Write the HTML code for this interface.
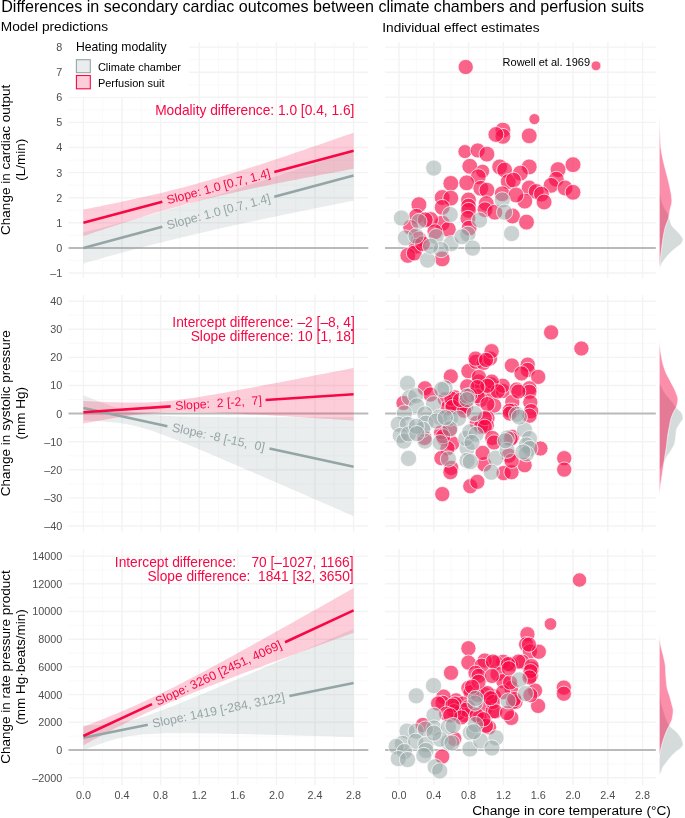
<!DOCTYPE html>
<html><head><meta charset="utf-8"><style>html,body{margin:0;padding:0;background:#fff;width:685px;height:818px;overflow:hidden;position:relative}</style></head><body>
<svg width="685" height="818" viewBox="0 0 685 818" style="position:absolute;left:0;top:0;font-family:'Liberation Sans', sans-serif;will-change:transform">
<rect width="685" height="818" fill="#fff"/>
<text x="1.2" y="12" font-size="16.1" fill="#000">Differences in secondary cardiac outcomes between climate chambers and perfusion suits</text>
<text x="0.8" y="31.4" font-size="13.7" fill="#000">Model predictions</text>
<text x="382.3" y="31.6" font-size="13.7" fill="#000">Individual effect estimates</text>
<line x1="68.5" x2="368.3" y1="260.45" y2="260.45" stroke="#f8f8f8" stroke-width="0.9"/>
<line x1="68.5" x2="368.3" y1="235.35" y2="235.35" stroke="#f8f8f8" stroke-width="0.9"/>
<line x1="68.5" x2="368.3" y1="210.25" y2="210.25" stroke="#f8f8f8" stroke-width="0.9"/>
<line x1="68.5" x2="368.3" y1="185.15" y2="185.15" stroke="#f8f8f8" stroke-width="0.9"/>
<line x1="68.5" x2="368.3" y1="160.05" y2="160.05" stroke="#f8f8f8" stroke-width="0.9"/>
<line x1="68.5" x2="368.3" y1="134.95" y2="134.95" stroke="#f8f8f8" stroke-width="0.9"/>
<line x1="68.5" x2="368.3" y1="109.85" y2="109.85" stroke="#f8f8f8" stroke-width="0.9"/>
<line x1="68.5" x2="368.3" y1="84.75" y2="84.75" stroke="#f8f8f8" stroke-width="0.9"/>
<line x1="68.5" x2="368.3" y1="59.65" y2="59.65" stroke="#f8f8f8" stroke-width="0.9"/>
<line x1="102.7" x2="102.7" y1="41.9" y2="277.8" stroke="#f8f8f8" stroke-width="0.9"/>
<line x1="141.3" x2="141.3" y1="41.9" y2="277.8" stroke="#f8f8f8" stroke-width="0.9"/>
<line x1="179.9" x2="179.9" y1="41.9" y2="277.8" stroke="#f8f8f8" stroke-width="0.9"/>
<line x1="218.5" x2="218.5" y1="41.9" y2="277.8" stroke="#f8f8f8" stroke-width="0.9"/>
<line x1="257.1" x2="257.1" y1="41.9" y2="277.8" stroke="#f8f8f8" stroke-width="0.9"/>
<line x1="295.7" x2="295.7" y1="41.9" y2="277.8" stroke="#f8f8f8" stroke-width="0.9"/>
<line x1="334.3" x2="334.3" y1="41.9" y2="277.8" stroke="#f8f8f8" stroke-width="0.9"/>
<line x1="68.5" x2="368.3" y1="273" y2="273" stroke="#f3f3f3" stroke-width="1.4"/>
<line x1="68.5" x2="368.3" y1="247.9" y2="247.9" stroke="#f3f3f3" stroke-width="1.4"/>
<line x1="68.5" x2="368.3" y1="222.8" y2="222.8" stroke="#f3f3f3" stroke-width="1.4"/>
<line x1="68.5" x2="368.3" y1="197.7" y2="197.7" stroke="#f3f3f3" stroke-width="1.4"/>
<line x1="68.5" x2="368.3" y1="172.6" y2="172.6" stroke="#f3f3f3" stroke-width="1.4"/>
<line x1="68.5" x2="368.3" y1="147.5" y2="147.5" stroke="#f3f3f3" stroke-width="1.4"/>
<line x1="68.5" x2="368.3" y1="122.4" y2="122.4" stroke="#f3f3f3" stroke-width="1.4"/>
<line x1="68.5" x2="368.3" y1="97.3" y2="97.3" stroke="#f3f3f3" stroke-width="1.4"/>
<line x1="68.5" x2="368.3" y1="72.2" y2="72.2" stroke="#f3f3f3" stroke-width="1.4"/>
<line x1="68.5" x2="368.3" y1="47.1" y2="47.1" stroke="#f3f3f3" stroke-width="1.4"/>
<line x1="83.4" x2="83.4" y1="41.9" y2="277.8" stroke="#f3f3f3" stroke-width="1.4"/>
<line x1="122" x2="122" y1="41.9" y2="277.8" stroke="#f3f3f3" stroke-width="1.4"/>
<line x1="160.6" x2="160.6" y1="41.9" y2="277.8" stroke="#f3f3f3" stroke-width="1.4"/>
<line x1="199.2" x2="199.2" y1="41.9" y2="277.8" stroke="#f3f3f3" stroke-width="1.4"/>
<line x1="237.8" x2="237.8" y1="41.9" y2="277.8" stroke="#f3f3f3" stroke-width="1.4"/>
<line x1="276.4" x2="276.4" y1="41.9" y2="277.8" stroke="#f3f3f3" stroke-width="1.4"/>
<line x1="315" x2="315" y1="41.9" y2="277.8" stroke="#f3f3f3" stroke-width="1.4"/>
<line x1="353.6" x2="353.6" y1="41.9" y2="277.8" stroke="#f3f3f3" stroke-width="1.4"/>
<line x1="385.1" x2="655.8" y1="260.45" y2="260.45" stroke="#f8f8f8" stroke-width="0.9"/>
<line x1="385.1" x2="655.8" y1="235.35" y2="235.35" stroke="#f8f8f8" stroke-width="0.9"/>
<line x1="385.1" x2="655.8" y1="210.25" y2="210.25" stroke="#f8f8f8" stroke-width="0.9"/>
<line x1="385.1" x2="655.8" y1="185.15" y2="185.15" stroke="#f8f8f8" stroke-width="0.9"/>
<line x1="385.1" x2="655.8" y1="160.05" y2="160.05" stroke="#f8f8f8" stroke-width="0.9"/>
<line x1="385.1" x2="655.8" y1="134.95" y2="134.95" stroke="#f8f8f8" stroke-width="0.9"/>
<line x1="385.1" x2="655.8" y1="109.85" y2="109.85" stroke="#f8f8f8" stroke-width="0.9"/>
<line x1="385.1" x2="655.8" y1="84.75" y2="84.75" stroke="#f8f8f8" stroke-width="0.9"/>
<line x1="385.1" x2="655.8" y1="59.65" y2="59.65" stroke="#f8f8f8" stroke-width="0.9"/>
<line x1="416.4" x2="416.4" y1="41.9" y2="277.8" stroke="#f8f8f8" stroke-width="0.9"/>
<line x1="451.2" x2="451.2" y1="41.9" y2="277.8" stroke="#f8f8f8" stroke-width="0.9"/>
<line x1="486" x2="486" y1="41.9" y2="277.8" stroke="#f8f8f8" stroke-width="0.9"/>
<line x1="520.8" x2="520.8" y1="41.9" y2="277.8" stroke="#f8f8f8" stroke-width="0.9"/>
<line x1="555.6" x2="555.6" y1="41.9" y2="277.8" stroke="#f8f8f8" stroke-width="0.9"/>
<line x1="590.4" x2="590.4" y1="41.9" y2="277.8" stroke="#f8f8f8" stroke-width="0.9"/>
<line x1="625.2" x2="625.2" y1="41.9" y2="277.8" stroke="#f8f8f8" stroke-width="0.9"/>
<line x1="385.1" x2="655.8" y1="273" y2="273" stroke="#f3f3f3" stroke-width="1.4"/>
<line x1="385.1" x2="655.8" y1="247.9" y2="247.9" stroke="#f3f3f3" stroke-width="1.4"/>
<line x1="385.1" x2="655.8" y1="222.8" y2="222.8" stroke="#f3f3f3" stroke-width="1.4"/>
<line x1="385.1" x2="655.8" y1="197.7" y2="197.7" stroke="#f3f3f3" stroke-width="1.4"/>
<line x1="385.1" x2="655.8" y1="172.6" y2="172.6" stroke="#f3f3f3" stroke-width="1.4"/>
<line x1="385.1" x2="655.8" y1="147.5" y2="147.5" stroke="#f3f3f3" stroke-width="1.4"/>
<line x1="385.1" x2="655.8" y1="122.4" y2="122.4" stroke="#f3f3f3" stroke-width="1.4"/>
<line x1="385.1" x2="655.8" y1="97.3" y2="97.3" stroke="#f3f3f3" stroke-width="1.4"/>
<line x1="385.1" x2="655.8" y1="72.2" y2="72.2" stroke="#f3f3f3" stroke-width="1.4"/>
<line x1="385.1" x2="655.8" y1="47.1" y2="47.1" stroke="#f3f3f3" stroke-width="1.4"/>
<line x1="399" x2="399" y1="41.9" y2="277.8" stroke="#f3f3f3" stroke-width="1.4"/>
<line x1="433.8" x2="433.8" y1="41.9" y2="277.8" stroke="#f3f3f3" stroke-width="1.4"/>
<line x1="468.6" x2="468.6" y1="41.9" y2="277.8" stroke="#f3f3f3" stroke-width="1.4"/>
<line x1="503.4" x2="503.4" y1="41.9" y2="277.8" stroke="#f3f3f3" stroke-width="1.4"/>
<line x1="538.2" x2="538.2" y1="41.9" y2="277.8" stroke="#f3f3f3" stroke-width="1.4"/>
<line x1="573" x2="573" y1="41.9" y2="277.8" stroke="#f3f3f3" stroke-width="1.4"/>
<line x1="607.8" x2="607.8" y1="41.9" y2="277.8" stroke="#f3f3f3" stroke-width="1.4"/>
<line x1="642.6" x2="642.6" y1="41.9" y2="277.8" stroke="#f3f3f3" stroke-width="1.4"/>
<line x1="68.5" x2="368.3" y1="511.95" y2="511.95" stroke="#f8f8f8" stroke-width="0.9"/>
<line x1="68.5" x2="368.3" y1="483.85" y2="483.85" stroke="#f8f8f8" stroke-width="0.9"/>
<line x1="68.5" x2="368.3" y1="455.75" y2="455.75" stroke="#f8f8f8" stroke-width="0.9"/>
<line x1="68.5" x2="368.3" y1="427.65" y2="427.65" stroke="#f8f8f8" stroke-width="0.9"/>
<line x1="68.5" x2="368.3" y1="399.55" y2="399.55" stroke="#f8f8f8" stroke-width="0.9"/>
<line x1="68.5" x2="368.3" y1="371.45" y2="371.45" stroke="#f8f8f8" stroke-width="0.9"/>
<line x1="68.5" x2="368.3" y1="343.35" y2="343.35" stroke="#f8f8f8" stroke-width="0.9"/>
<line x1="68.5" x2="368.3" y1="315.25" y2="315.25" stroke="#f8f8f8" stroke-width="0.9"/>
<line x1="102.7" x2="102.7" y1="295" y2="531.5" stroke="#f8f8f8" stroke-width="0.9"/>
<line x1="141.3" x2="141.3" y1="295" y2="531.5" stroke="#f8f8f8" stroke-width="0.9"/>
<line x1="179.9" x2="179.9" y1="295" y2="531.5" stroke="#f8f8f8" stroke-width="0.9"/>
<line x1="218.5" x2="218.5" y1="295" y2="531.5" stroke="#f8f8f8" stroke-width="0.9"/>
<line x1="257.1" x2="257.1" y1="295" y2="531.5" stroke="#f8f8f8" stroke-width="0.9"/>
<line x1="295.7" x2="295.7" y1="295" y2="531.5" stroke="#f8f8f8" stroke-width="0.9"/>
<line x1="334.3" x2="334.3" y1="295" y2="531.5" stroke="#f8f8f8" stroke-width="0.9"/>
<line x1="68.5" x2="368.3" y1="526" y2="526" stroke="#f3f3f3" stroke-width="1.4"/>
<line x1="68.5" x2="368.3" y1="497.9" y2="497.9" stroke="#f3f3f3" stroke-width="1.4"/>
<line x1="68.5" x2="368.3" y1="469.8" y2="469.8" stroke="#f3f3f3" stroke-width="1.4"/>
<line x1="68.5" x2="368.3" y1="441.7" y2="441.7" stroke="#f3f3f3" stroke-width="1.4"/>
<line x1="68.5" x2="368.3" y1="413.6" y2="413.6" stroke="#f3f3f3" stroke-width="1.4"/>
<line x1="68.5" x2="368.3" y1="385.5" y2="385.5" stroke="#f3f3f3" stroke-width="1.4"/>
<line x1="68.5" x2="368.3" y1="357.4" y2="357.4" stroke="#f3f3f3" stroke-width="1.4"/>
<line x1="68.5" x2="368.3" y1="329.3" y2="329.3" stroke="#f3f3f3" stroke-width="1.4"/>
<line x1="68.5" x2="368.3" y1="301.2" y2="301.2" stroke="#f3f3f3" stroke-width="1.4"/>
<line x1="83.4" x2="83.4" y1="295" y2="531.5" stroke="#f3f3f3" stroke-width="1.4"/>
<line x1="122" x2="122" y1="295" y2="531.5" stroke="#f3f3f3" stroke-width="1.4"/>
<line x1="160.6" x2="160.6" y1="295" y2="531.5" stroke="#f3f3f3" stroke-width="1.4"/>
<line x1="199.2" x2="199.2" y1="295" y2="531.5" stroke="#f3f3f3" stroke-width="1.4"/>
<line x1="237.8" x2="237.8" y1="295" y2="531.5" stroke="#f3f3f3" stroke-width="1.4"/>
<line x1="276.4" x2="276.4" y1="295" y2="531.5" stroke="#f3f3f3" stroke-width="1.4"/>
<line x1="315" x2="315" y1="295" y2="531.5" stroke="#f3f3f3" stroke-width="1.4"/>
<line x1="353.6" x2="353.6" y1="295" y2="531.5" stroke="#f3f3f3" stroke-width="1.4"/>
<line x1="385.1" x2="655.8" y1="511.95" y2="511.95" stroke="#f8f8f8" stroke-width="0.9"/>
<line x1="385.1" x2="655.8" y1="483.85" y2="483.85" stroke="#f8f8f8" stroke-width="0.9"/>
<line x1="385.1" x2="655.8" y1="455.75" y2="455.75" stroke="#f8f8f8" stroke-width="0.9"/>
<line x1="385.1" x2="655.8" y1="427.65" y2="427.65" stroke="#f8f8f8" stroke-width="0.9"/>
<line x1="385.1" x2="655.8" y1="399.55" y2="399.55" stroke="#f8f8f8" stroke-width="0.9"/>
<line x1="385.1" x2="655.8" y1="371.45" y2="371.45" stroke="#f8f8f8" stroke-width="0.9"/>
<line x1="385.1" x2="655.8" y1="343.35" y2="343.35" stroke="#f8f8f8" stroke-width="0.9"/>
<line x1="385.1" x2="655.8" y1="315.25" y2="315.25" stroke="#f8f8f8" stroke-width="0.9"/>
<line x1="416.4" x2="416.4" y1="295" y2="531.5" stroke="#f8f8f8" stroke-width="0.9"/>
<line x1="451.2" x2="451.2" y1="295" y2="531.5" stroke="#f8f8f8" stroke-width="0.9"/>
<line x1="486" x2="486" y1="295" y2="531.5" stroke="#f8f8f8" stroke-width="0.9"/>
<line x1="520.8" x2="520.8" y1="295" y2="531.5" stroke="#f8f8f8" stroke-width="0.9"/>
<line x1="555.6" x2="555.6" y1="295" y2="531.5" stroke="#f8f8f8" stroke-width="0.9"/>
<line x1="590.4" x2="590.4" y1="295" y2="531.5" stroke="#f8f8f8" stroke-width="0.9"/>
<line x1="625.2" x2="625.2" y1="295" y2="531.5" stroke="#f8f8f8" stroke-width="0.9"/>
<line x1="385.1" x2="655.8" y1="526" y2="526" stroke="#f3f3f3" stroke-width="1.4"/>
<line x1="385.1" x2="655.8" y1="497.9" y2="497.9" stroke="#f3f3f3" stroke-width="1.4"/>
<line x1="385.1" x2="655.8" y1="469.8" y2="469.8" stroke="#f3f3f3" stroke-width="1.4"/>
<line x1="385.1" x2="655.8" y1="441.7" y2="441.7" stroke="#f3f3f3" stroke-width="1.4"/>
<line x1="385.1" x2="655.8" y1="413.6" y2="413.6" stroke="#f3f3f3" stroke-width="1.4"/>
<line x1="385.1" x2="655.8" y1="385.5" y2="385.5" stroke="#f3f3f3" stroke-width="1.4"/>
<line x1="385.1" x2="655.8" y1="357.4" y2="357.4" stroke="#f3f3f3" stroke-width="1.4"/>
<line x1="385.1" x2="655.8" y1="329.3" y2="329.3" stroke="#f3f3f3" stroke-width="1.4"/>
<line x1="385.1" x2="655.8" y1="301.2" y2="301.2" stroke="#f3f3f3" stroke-width="1.4"/>
<line x1="399" x2="399" y1="295" y2="531.5" stroke="#f3f3f3" stroke-width="1.4"/>
<line x1="433.8" x2="433.8" y1="295" y2="531.5" stroke="#f3f3f3" stroke-width="1.4"/>
<line x1="468.6" x2="468.6" y1="295" y2="531.5" stroke="#f3f3f3" stroke-width="1.4"/>
<line x1="503.4" x2="503.4" y1="295" y2="531.5" stroke="#f3f3f3" stroke-width="1.4"/>
<line x1="538.2" x2="538.2" y1="295" y2="531.5" stroke="#f3f3f3" stroke-width="1.4"/>
<line x1="573" x2="573" y1="295" y2="531.5" stroke="#f3f3f3" stroke-width="1.4"/>
<line x1="607.8" x2="607.8" y1="295" y2="531.5" stroke="#f3f3f3" stroke-width="1.4"/>
<line x1="642.6" x2="642.6" y1="295" y2="531.5" stroke="#f3f3f3" stroke-width="1.4"/>
<line x1="68.5" x2="368.3" y1="763.85" y2="763.85" stroke="#f8f8f8" stroke-width="0.9"/>
<line x1="68.5" x2="368.3" y1="736.15" y2="736.15" stroke="#f8f8f8" stroke-width="0.9"/>
<line x1="68.5" x2="368.3" y1="708.45" y2="708.45" stroke="#f8f8f8" stroke-width="0.9"/>
<line x1="68.5" x2="368.3" y1="680.75" y2="680.75" stroke="#f8f8f8" stroke-width="0.9"/>
<line x1="68.5" x2="368.3" y1="653.05" y2="653.05" stroke="#f8f8f8" stroke-width="0.9"/>
<line x1="68.5" x2="368.3" y1="625.35" y2="625.35" stroke="#f8f8f8" stroke-width="0.9"/>
<line x1="68.5" x2="368.3" y1="597.65" y2="597.65" stroke="#f8f8f8" stroke-width="0.9"/>
<line x1="68.5" x2="368.3" y1="569.95" y2="569.95" stroke="#f8f8f8" stroke-width="0.9"/>
<line x1="102.7" x2="102.7" y1="549" y2="785" stroke="#f8f8f8" stroke-width="0.9"/>
<line x1="141.3" x2="141.3" y1="549" y2="785" stroke="#f8f8f8" stroke-width="0.9"/>
<line x1="179.9" x2="179.9" y1="549" y2="785" stroke="#f8f8f8" stroke-width="0.9"/>
<line x1="218.5" x2="218.5" y1="549" y2="785" stroke="#f8f8f8" stroke-width="0.9"/>
<line x1="257.1" x2="257.1" y1="549" y2="785" stroke="#f8f8f8" stroke-width="0.9"/>
<line x1="295.7" x2="295.7" y1="549" y2="785" stroke="#f8f8f8" stroke-width="0.9"/>
<line x1="334.3" x2="334.3" y1="549" y2="785" stroke="#f8f8f8" stroke-width="0.9"/>
<line x1="68.5" x2="368.3" y1="777.7" y2="777.7" stroke="#f3f3f3" stroke-width="1.4"/>
<line x1="68.5" x2="368.3" y1="750" y2="750" stroke="#f3f3f3" stroke-width="1.4"/>
<line x1="68.5" x2="368.3" y1="722.3" y2="722.3" stroke="#f3f3f3" stroke-width="1.4"/>
<line x1="68.5" x2="368.3" y1="694.6" y2="694.6" stroke="#f3f3f3" stroke-width="1.4"/>
<line x1="68.5" x2="368.3" y1="666.9" y2="666.9" stroke="#f3f3f3" stroke-width="1.4"/>
<line x1="68.5" x2="368.3" y1="639.2" y2="639.2" stroke="#f3f3f3" stroke-width="1.4"/>
<line x1="68.5" x2="368.3" y1="611.5" y2="611.5" stroke="#f3f3f3" stroke-width="1.4"/>
<line x1="68.5" x2="368.3" y1="583.8" y2="583.8" stroke="#f3f3f3" stroke-width="1.4"/>
<line x1="68.5" x2="368.3" y1="556.1" y2="556.1" stroke="#f3f3f3" stroke-width="1.4"/>
<line x1="83.4" x2="83.4" y1="549" y2="785" stroke="#f3f3f3" stroke-width="1.4"/>
<line x1="122" x2="122" y1="549" y2="785" stroke="#f3f3f3" stroke-width="1.4"/>
<line x1="160.6" x2="160.6" y1="549" y2="785" stroke="#f3f3f3" stroke-width="1.4"/>
<line x1="199.2" x2="199.2" y1="549" y2="785" stroke="#f3f3f3" stroke-width="1.4"/>
<line x1="237.8" x2="237.8" y1="549" y2="785" stroke="#f3f3f3" stroke-width="1.4"/>
<line x1="276.4" x2="276.4" y1="549" y2="785" stroke="#f3f3f3" stroke-width="1.4"/>
<line x1="315" x2="315" y1="549" y2="785" stroke="#f3f3f3" stroke-width="1.4"/>
<line x1="353.6" x2="353.6" y1="549" y2="785" stroke="#f3f3f3" stroke-width="1.4"/>
<line x1="385.1" x2="655.8" y1="763.85" y2="763.85" stroke="#f8f8f8" stroke-width="0.9"/>
<line x1="385.1" x2="655.8" y1="736.15" y2="736.15" stroke="#f8f8f8" stroke-width="0.9"/>
<line x1="385.1" x2="655.8" y1="708.45" y2="708.45" stroke="#f8f8f8" stroke-width="0.9"/>
<line x1="385.1" x2="655.8" y1="680.75" y2="680.75" stroke="#f8f8f8" stroke-width="0.9"/>
<line x1="385.1" x2="655.8" y1="653.05" y2="653.05" stroke="#f8f8f8" stroke-width="0.9"/>
<line x1="385.1" x2="655.8" y1="625.35" y2="625.35" stroke="#f8f8f8" stroke-width="0.9"/>
<line x1="385.1" x2="655.8" y1="597.65" y2="597.65" stroke="#f8f8f8" stroke-width="0.9"/>
<line x1="385.1" x2="655.8" y1="569.95" y2="569.95" stroke="#f8f8f8" stroke-width="0.9"/>
<line x1="416.4" x2="416.4" y1="549" y2="785" stroke="#f8f8f8" stroke-width="0.9"/>
<line x1="451.2" x2="451.2" y1="549" y2="785" stroke="#f8f8f8" stroke-width="0.9"/>
<line x1="486" x2="486" y1="549" y2="785" stroke="#f8f8f8" stroke-width="0.9"/>
<line x1="520.8" x2="520.8" y1="549" y2="785" stroke="#f8f8f8" stroke-width="0.9"/>
<line x1="555.6" x2="555.6" y1="549" y2="785" stroke="#f8f8f8" stroke-width="0.9"/>
<line x1="590.4" x2="590.4" y1="549" y2="785" stroke="#f8f8f8" stroke-width="0.9"/>
<line x1="625.2" x2="625.2" y1="549" y2="785" stroke="#f8f8f8" stroke-width="0.9"/>
<line x1="385.1" x2="655.8" y1="777.7" y2="777.7" stroke="#f3f3f3" stroke-width="1.4"/>
<line x1="385.1" x2="655.8" y1="750" y2="750" stroke="#f3f3f3" stroke-width="1.4"/>
<line x1="385.1" x2="655.8" y1="722.3" y2="722.3" stroke="#f3f3f3" stroke-width="1.4"/>
<line x1="385.1" x2="655.8" y1="694.6" y2="694.6" stroke="#f3f3f3" stroke-width="1.4"/>
<line x1="385.1" x2="655.8" y1="666.9" y2="666.9" stroke="#f3f3f3" stroke-width="1.4"/>
<line x1="385.1" x2="655.8" y1="639.2" y2="639.2" stroke="#f3f3f3" stroke-width="1.4"/>
<line x1="385.1" x2="655.8" y1="611.5" y2="611.5" stroke="#f3f3f3" stroke-width="1.4"/>
<line x1="385.1" x2="655.8" y1="583.8" y2="583.8" stroke="#f3f3f3" stroke-width="1.4"/>
<line x1="385.1" x2="655.8" y1="556.1" y2="556.1" stroke="#f3f3f3" stroke-width="1.4"/>
<line x1="399" x2="399" y1="549" y2="785" stroke="#f3f3f3" stroke-width="1.4"/>
<line x1="433.8" x2="433.8" y1="549" y2="785" stroke="#f3f3f3" stroke-width="1.4"/>
<line x1="468.6" x2="468.6" y1="549" y2="785" stroke="#f3f3f3" stroke-width="1.4"/>
<line x1="503.4" x2="503.4" y1="549" y2="785" stroke="#f3f3f3" stroke-width="1.4"/>
<line x1="538.2" x2="538.2" y1="549" y2="785" stroke="#f3f3f3" stroke-width="1.4"/>
<line x1="573" x2="573" y1="549" y2="785" stroke="#f3f3f3" stroke-width="1.4"/>
<line x1="607.8" x2="607.8" y1="549" y2="785" stroke="#f3f3f3" stroke-width="1.4"/>
<line x1="642.6" x2="642.6" y1="549" y2="785" stroke="#f3f3f3" stroke-width="1.4"/>
<rect x="68" y="41" width="121" height="56" fill="#fff"/>
<line x1="68.5" x2="368.3" y1="247.9" y2="247.9" stroke="#bababa" stroke-width="2"/>
<path d="M83.4,232.34 L89.03,230.95 L94.66,229.55 L100.29,228.13 L105.92,226.7 L111.55,225.25 L117.17,223.79 L122.8,222.3 L128.43,220.81 L134.06,219.29 L139.69,217.76 L145.32,216.21 L150.95,214.64 L156.58,213.06 L162.21,211.47 L167.84,209.85 L173.47,208.22 L179.1,206.58 L184.73,204.92 L190.35,203.25 L195.98,201.56 L201.61,199.86 L207.24,198.15 L212.87,196.42 L218.5,194.69 L224.13,192.94 L229.76,191.18 L235.39,189.41 L241.02,187.63 L246.65,185.84 L252.28,184.04 L257.9,182.24 L263.53,180.42 L269.16,178.6 L274.79,176.76 L280.42,174.93 L286.05,173.08 L291.68,171.23 L297.31,169.37 L302.94,167.51 L308.57,165.64 L314.2,163.76 L319.82,161.88 L325.45,160 L331.08,158.11 L336.71,156.22 L342.34,154.32 L347.97,152.42 L353.6,150.51 L353.6,200.71 L347.97,201.82 L342.34,202.93 L336.71,204.04 L331.08,205.16 L325.45,206.28 L319.82,207.41 L314.2,208.54 L308.57,209.68 L302.94,210.82 L297.31,211.97 L291.68,213.13 L286.05,214.29 L280.42,215.45 L274.79,216.63 L269.16,217.81 L263.53,219 L257.9,220.19 L252.28,221.4 L246.65,222.61 L241.02,223.83 L235.39,225.07 L229.76,226.31 L224.13,227.56 L218.5,228.82 L212.87,230.1 L207.24,231.39 L201.61,232.69 L195.98,234 L190.35,235.32 L184.73,236.66 L179.1,238.02 L173.47,239.38 L167.84,240.77 L162.21,242.17 L156.58,243.58 L150.95,245.01 L145.32,246.46 L139.69,247.92 L134.06,249.4 L128.43,250.9 L122.8,252.41 L117.17,253.94 L111.55,255.49 L105.92,257.05 L100.29,258.63 L94.66,260.22 L89.03,261.84 L83.4,263.46Z" fill="#95a5a6" fill-opacity="0.2"/>
<path d="M83.4,209.5 L89.03,208.39 L94.66,207.28 L100.29,206.15 L105.92,205.01 L111.55,203.86 L117.17,202.69 L122.8,201.51 L128.43,200.31 L134.06,199.09 L139.69,197.85 L145.32,196.58 L150.95,195.29 L156.58,193.98 L162.21,192.63 L167.84,191.26 L173.47,189.86 L179.1,188.43 L184.73,186.96 L190.35,185.46 L195.98,183.93 L201.61,182.37 L207.24,180.77 L212.87,179.15 L218.5,177.49 L224.13,175.81 L229.76,174.1 L235.39,172.37 L241.02,170.61 L246.65,168.84 L252.28,167.04 L257.9,165.22 L263.53,163.39 L269.16,161.55 L274.79,159.68 L280.42,157.81 L286.05,155.93 L291.68,154.03 L297.31,152.12 L302.94,150.21 L308.57,148.29 L314.2,146.36 L319.82,144.42 L325.45,142.48 L331.08,140.53 L336.71,138.58 L342.34,136.62 L347.97,134.66 L353.6,132.69 L353.6,168.84 L347.97,169.87 L342.34,170.91 L336.71,171.95 L331.08,173 L325.45,174.05 L319.82,175.11 L314.2,176.18 L308.57,177.25 L302.94,178.33 L297.31,179.42 L291.68,180.51 L286.05,181.62 L280.42,182.74 L274.79,183.86 L269.16,185 L263.53,186.16 L257.9,187.33 L252.28,188.51 L246.65,189.72 L241.02,190.94 L235.39,192.19 L229.76,193.46 L224.13,194.75 L218.5,196.07 L212.87,197.42 L207.24,198.79 L201.61,200.2 L195.98,201.64 L190.35,203.11 L184.73,204.61 L179.1,206.15 L173.47,207.72 L167.84,209.31 L162.21,210.94 L156.58,212.6 L150.95,214.29 L145.32,216 L139.69,217.74 L134.06,219.5 L128.43,221.28 L122.8,223.08 L117.17,224.9 L111.55,226.73 L105.92,228.58 L100.29,230.44 L94.66,232.32 L89.03,234.21 L83.4,236.1Z" fill="#f70845" fill-opacity="0.2"/>
<path d="M83.4,247.9 L162.3,226.79 M274.3,196.83 L353.6,175.61" stroke="#95a5a6" stroke-width="2.6" fill="none"/>
<text x="218.5" y="211.76" transform="rotate(-14.98 218.5 211.76)" fill="#95a5a6" font-size="12.3" text-anchor="middle" dominant-baseline="central" style="white-space:pre">Slope: 1.0 [0.7, 1.4]</text>
<path d="M83.4,222.8 L162.3,201.76 M274.3,171.9 L353.6,150.76" stroke="#f70845" stroke-width="2.6" fill="none"/>
<text x="218.5" y="186.78" transform="rotate(-14.93 218.5 186.78)" fill="#f70845" font-size="12.3" text-anchor="middle" dominant-baseline="central" style="white-space:pre">Slope: 1.0 [0.7, 1.4]</text>
<text x="354.4" y="114.8" font-size="13.75" fill="#f70845" text-anchor="end">Modality difference: 1.0 [0.4, 1.6]</text>
<text x="75.9" y="50.8" font-size="12.2" fill="#000">Heating modality</text>
<rect x="76.4" y="59.7" width="13.9" height="13.0" fill="#95a5a6" fill-opacity="0.2" stroke="#95a5a6" stroke-width="1.1"/>
<rect x="76.4" y="75.5" width="13.9" height="13.3" fill="#f70845" fill-opacity="0.2" stroke="#f70845" stroke-width="1.1"/>
<text x="97.9" y="70.9" font-size="11" fill="#000">Climate chamber</text>
<text x="97.9" y="86.7" font-size="11" fill="#000">Perfusion suit</text>
<line x1="68.5" x2="368.3" y1="413.6" y2="413.6" stroke="#bababa" stroke-width="2"/>
<path d="M83.4,395.34 L89.03,397.6 L94.66,399.82 L100.29,401.99 L105.92,404.08 L111.55,406.07 L117.17,407.92 L122.8,409.61 L128.43,411.1 L134.06,412.36 L139.69,413.39 L145.32,414.2 L150.95,414.84 L156.58,415.33 L162.21,415.72 L167.84,416.02 L173.47,416.26 L179.1,416.45 L184.73,416.61 L190.35,416.74 L195.98,416.84 L201.61,416.93 L207.24,417 L212.87,417.06 L218.5,417.11 L224.13,417.16 L229.76,417.19 L235.39,417.22 L241.02,417.25 L246.65,417.27 L252.28,417.28 L257.9,417.3 L263.53,417.31 L269.16,417.31 L274.79,417.32 L280.42,417.32 L286.05,417.32 L291.68,417.32 L297.31,417.32 L302.94,417.32 L308.57,417.32 L314.2,417.31 L319.82,417.31 L325.45,417.3 L331.08,417.29 L336.71,417.28 L342.34,417.27 L347.97,417.26 L353.6,417.25 L353.6,516.16 L347.97,513.71 L342.34,511.25 L336.71,508.79 L331.08,506.34 L325.45,503.88 L319.82,501.43 L314.2,498.98 L308.57,496.52 L302.94,494.07 L297.31,491.62 L291.68,489.18 L286.05,486.73 L280.42,484.28 L274.79,481.84 L269.16,479.4 L263.53,476.96 L257.9,474.52 L252.28,472.09 L246.65,469.66 L241.02,467.23 L235.39,464.81 L229.76,462.39 L224.13,459.98 L218.5,457.58 L212.87,455.18 L207.24,452.79 L201.61,450.42 L195.98,448.06 L190.35,445.72 L184.73,443.4 L179.1,441.11 L173.47,438.85 L167.84,436.65 L162.21,434.5 L156.58,432.44 L150.95,430.49 L145.32,428.68 L139.69,427.04 L134.06,425.63 L128.43,424.44 L122.8,423.48 L117.17,422.72 L111.55,422.13 L105.92,421.67 L100.29,421.31 L94.66,421.03 L89.03,420.81 L83.4,420.62Z" fill="#95a5a6" fill-opacity="0.2"/>
<path d="M83.4,400.96 L89.03,401.23 L94.66,401.49 L100.29,401.73 L105.92,401.95 L111.55,402.15 L117.17,402.32 L122.8,402.46 L128.43,402.55 L134.06,402.59 L139.69,402.56 L145.32,402.46 L150.95,402.26 L156.58,401.97 L162.21,401.58 L167.84,401.09 L173.47,400.5 L179.1,399.83 L184.73,399.08 L190.35,398.27 L195.98,397.42 L201.61,396.52 L207.24,395.59 L212.87,394.63 L218.5,393.65 L224.13,392.65 L229.76,391.64 L235.39,390.61 L241.02,389.58 L246.65,388.53 L252.28,387.48 L257.9,386.42 L263.53,385.36 L269.16,384.29 L274.79,383.21 L280.42,382.14 L286.05,381.06 L291.68,379.97 L297.31,378.89 L302.94,377.8 L308.57,376.71 L314.2,375.62 L319.82,374.53 L325.45,373.43 L331.08,372.33 L336.71,371.24 L342.34,370.14 L347.97,369.04 L353.6,367.94 L353.6,420.48 L347.97,420.13 L342.34,419.78 L336.71,419.43 L331.08,419.09 L325.45,418.74 L319.82,418.39 L314.2,418.05 L308.57,417.71 L302.94,417.37 L297.31,417.03 L291.68,416.69 L286.05,416.36 L280.42,416.03 L274.79,415.7 L269.16,415.37 L263.53,415.05 L257.9,414.74 L252.28,414.43 L246.65,414.13 L241.02,413.83 L235.39,413.55 L229.76,413.27 L224.13,413.01 L218.5,412.76 L212.87,412.53 L207.24,412.32 L201.61,412.14 L195.98,411.99 L190.35,411.88 L184.73,411.82 L179.1,411.83 L173.47,411.9 L167.84,412.06 L162.21,412.32 L156.58,412.68 L150.95,413.13 L145.32,413.69 L139.69,414.34 L134.06,415.06 L128.43,415.85 L122.8,416.69 L117.17,417.57 L111.55,418.49 L105.92,419.44 L100.29,420.41 L94.66,421.41 L89.03,422.41 L83.4,423.44Z" fill="#f70845" fill-opacity="0.2"/>
<path d="M83.4,407.98 L167.4,426.24 M269.5,448.43 L353.6,466.71" stroke="#95a5a6" stroke-width="2.6" fill="none"/>
<text x="218.5" y="437.34" transform="rotate(12.26 218.5 437.34)" fill="#95a5a6" font-size="12.3" text-anchor="middle" dominant-baseline="central" style="white-space:pre">Slope: -8 [-15,  0]</text>
<path d="M83.4,412.2 L170.7,406.38 M265.6,400.07 L353.6,394.21" stroke="#f70845" stroke-width="2.6" fill="none"/>
<text x="218.5" y="403.2" transform="rotate(-3.81 218.5 403.2)" fill="#f70845" font-size="12.3" text-anchor="middle" dominant-baseline="central" style="white-space:pre">Slope:  2 [-2,  7]</text>
<text x="354.8" y="327.1" font-size="13.75" fill="#f70845" text-anchor="end">Intercept difference: –2 [–8, 4]</text>
<text x="354.8" y="341.2" font-size="13.75" fill="#f70845" text-anchor="end">Slope difference: 10 [1, 18]</text>
<line x1="68.5" x2="368.3" y1="750" y2="750" stroke="#bababa" stroke-width="2"/>
<path d="M83.4,725.53 L88.23,725.41 L93.05,725.25 L97.88,725.02 L102.7,724.71 L107.53,724.31 L112.35,723.79 L117.18,723.14 L122,722.33 L126.83,721.36 L131.65,720.22 L136.47,718.92 L141.3,717.49 L146.12,715.94 L150.95,714.29 L155.78,712.57 L160.6,710.78 L165.43,708.94 L170.25,707.06 L175.07,705.14 L179.9,703.2 L184.73,701.24 L189.55,699.26 L194.38,697.27 L199.2,695.26 L204.03,693.24 L208.85,691.22 L213.67,689.18 L218.5,687.14 L223.32,685.09 L228.15,683.04 L232.98,680.98 L237.8,678.92 L242.62,676.86 L247.45,674.79 L252.28,672.72 L257.1,670.64 L261.92,668.57 L266.75,666.49 L271.57,664.41 L276.4,662.33 L281.23,660.25 L286.05,658.16 L290.88,656.08 L295.7,653.99 L300.52,651.9 L305.35,649.82 L310.18,647.73 L315,645.64 L319.82,643.54 L324.65,641.45 L329.48,639.36 L334.3,637.27 L339.12,635.17 L343.95,633.08 L348.77,630.98 L353.6,628.89 L353.6,737.04 L348.77,736.91 L343.95,736.77 L339.12,736.63 L334.3,736.5 L329.48,736.36 L324.65,736.23 L319.82,736.1 L315,735.96 L310.18,735.83 L305.35,735.7 L300.52,735.57 L295.7,735.44 L290.88,735.31 L286.05,735.18 L281.23,735.06 L276.4,734.93 L271.57,734.81 L266.75,734.69 L261.92,734.57 L257.1,734.45 L252.28,734.34 L247.45,734.23 L242.62,734.12 L237.8,734.01 L232.98,733.91 L228.15,733.81 L223.32,733.71 L218.5,733.62 L213.67,733.54 L208.85,733.46 L204.03,733.4 L199.2,733.34 L194.38,733.29 L189.55,733.25 L184.73,733.23 L179.9,733.23 L175.07,733.24 L170.25,733.29 L165.43,733.37 L160.6,733.49 L155.78,733.66 L150.95,733.89 L146.12,734.2 L141.3,734.61 L136.47,735.13 L131.65,735.8 L126.83,736.62 L122,737.6 L117.18,738.75 L112.35,740.05 L107.53,741.49 L102.7,743.05 L97.88,744.7 L93.05,746.43 L88.23,748.22 L83.4,750.07Z" fill="#95a5a6" fill-opacity="0.2"/>
<path d="M83.4,726.75 L88.23,724.87 L93.05,722.97 L97.88,721.06 L102.7,719.14 L107.53,717.19 L112.35,715.22 L117.18,713.22 L122,711.19 L126.83,709.14 L131.65,707.05 L136.47,704.92 L141.3,702.76 L146.12,700.56 L150.95,698.32 L155.78,696.03 L160.6,693.71 L165.43,691.35 L170.25,688.95 L175.07,686.52 L179.9,684.06 L184.73,681.58 L189.55,679.06 L194.38,676.52 L199.2,673.97 L204.03,671.39 L208.85,668.8 L213.67,666.19 L218.5,663.58 L223.32,660.95 L228.15,658.31 L232.98,655.66 L237.8,653 L242.62,650.34 L247.45,647.67 L252.28,644.99 L257.1,642.31 L261.92,639.63 L266.75,636.94 L271.57,634.25 L276.4,631.55 L281.23,628.85 L286.05,626.15 L290.88,623.44 L295.7,620.74 L300.52,618.03 L305.35,615.32 L310.18,612.6 L315,609.89 L319.82,607.17 L324.65,604.45 L329.48,601.73 L334.3,599.01 L339.12,596.29 L343.95,593.57 L348.77,590.84 L353.6,588.12 L353.6,632.67 L348.77,634.43 L343.95,636.19 L339.12,637.95 L334.3,639.72 L329.48,641.48 L324.65,643.25 L319.82,645.01 L315,646.78 L310.18,648.55 L305.35,650.33 L300.52,652.1 L295.7,653.88 L290.88,655.66 L286.05,657.44 L281.23,659.22 L276.4,661.01 L271.57,662.8 L266.75,664.59 L261.92,666.39 L257.1,668.19 L252.28,669.99 L247.45,671.8 L242.62,673.62 L237.8,675.44 L232.98,677.27 L228.15,679.11 L223.32,680.96 L218.5,682.81 L213.67,684.68 L208.85,686.56 L204.03,688.46 L199.2,690.37 L194.38,692.29 L189.55,694.24 L184.73,696.22 L179.9,698.21 L175.07,700.24 L170.25,702.29 L165.43,704.38 L160.6,706.51 L155.78,708.67 L150.95,710.88 L146.12,713.12 L141.3,715.4 L136.47,717.73 L131.65,720.09 L126.83,722.48 L122,724.91 L117.18,727.37 L112.35,729.86 L107.53,732.38 L102.7,734.92 L97.88,737.47 L93.05,740.05 L88.23,742.64 L83.4,745.25Z" fill="#f70845" fill-opacity="0.2"/>
<path d="M83.4,737.8 L147.8,724.73 M289.4,695.99 L353.6,682.97" stroke="#95a5a6" stroke-width="2.6" fill="none"/>
<text x="218.5" y="710.38" transform="rotate(-11.47 218.5 710.38)" fill="#95a5a6" font-size="12.3" text-anchor="middle" dominant-baseline="central" style="white-space:pre">Slope: 1419 [-284, 3122]</text>
<path d="M83.4,736 L152,704.11 M285,642.28 L353.6,610.39" stroke="#f70845" stroke-width="2.6" fill="none"/>
<text x="218.5" y="673.19" transform="rotate(-24.93 218.5 673.19)" fill="#f70845" font-size="12.3" text-anchor="middle" dominant-baseline="central" style="white-space:pre">Slope: 3260 [2451, 4069]</text>
<text x="353.6" y="566.8" font-size="13.75" fill="#f70845" text-anchor="end" style="white-space:pre">Intercept difference:    70 [–1027, 1166]</text>
<text x="353.6" y="580.6" font-size="13.75" fill="#f70845" text-anchor="end" style="white-space:pre">Slope difference:  1841 [32, 3650]</text>
<text x="62.2" y="276.9" fill="#4d4d4d" font-size="10.8" text-anchor="end">–1</text>
<text x="62.2" y="251.8" fill="#4d4d4d" font-size="10.8" text-anchor="end">0</text>
<text x="62.2" y="226.7" fill="#4d4d4d" font-size="10.8" text-anchor="end">1</text>
<text x="62.2" y="201.6" fill="#4d4d4d" font-size="10.8" text-anchor="end">2</text>
<text x="62.2" y="176.5" fill="#4d4d4d" font-size="10.8" text-anchor="end">3</text>
<text x="62.2" y="151.4" fill="#4d4d4d" font-size="10.8" text-anchor="end">4</text>
<text x="62.2" y="126.3" fill="#4d4d4d" font-size="10.8" text-anchor="end">5</text>
<text x="62.2" y="101.2" fill="#4d4d4d" font-size="10.8" text-anchor="end">6</text>
<text x="62.2" y="76.1" fill="#4d4d4d" font-size="10.8" text-anchor="end">7</text>
<text x="62.2" y="51" fill="#4d4d4d" font-size="10.8" text-anchor="end">8</text>
<text x="62.2" y="529.9" fill="#4d4d4d" font-size="10.8" text-anchor="end">–40</text>
<text x="62.2" y="501.8" fill="#4d4d4d" font-size="10.8" text-anchor="end">–30</text>
<text x="62.2" y="473.7" fill="#4d4d4d" font-size="10.8" text-anchor="end">–20</text>
<text x="62.2" y="445.6" fill="#4d4d4d" font-size="10.8" text-anchor="end">–10</text>
<text x="62.2" y="417.5" fill="#4d4d4d" font-size="10.8" text-anchor="end">0</text>
<text x="62.2" y="389.4" fill="#4d4d4d" font-size="10.8" text-anchor="end">10</text>
<text x="62.2" y="361.3" fill="#4d4d4d" font-size="10.8" text-anchor="end">20</text>
<text x="62.2" y="333.2" fill="#4d4d4d" font-size="10.8" text-anchor="end">30</text>
<text x="62.2" y="305.1" fill="#4d4d4d" font-size="10.8" text-anchor="end">40</text>
<text x="62.2" y="781.6" fill="#4d4d4d" font-size="10.8" text-anchor="end">–2000</text>
<text x="62.2" y="753.9" fill="#4d4d4d" font-size="10.8" text-anchor="end">0</text>
<text x="62.2" y="726.2" fill="#4d4d4d" font-size="10.8" text-anchor="end">2000</text>
<text x="62.2" y="698.5" fill="#4d4d4d" font-size="10.8" text-anchor="end">4000</text>
<text x="62.2" y="670.8" fill="#4d4d4d" font-size="10.8" text-anchor="end">6000</text>
<text x="62.2" y="643.1" fill="#4d4d4d" font-size="10.8" text-anchor="end">8000</text>
<text x="62.2" y="615.4" fill="#4d4d4d" font-size="10.8" text-anchor="end">10000</text>
<text x="62.2" y="587.7" fill="#4d4d4d" font-size="10.8" text-anchor="end">12000</text>
<text x="62.2" y="560" fill="#4d4d4d" font-size="10.8" text-anchor="end">14000</text>
<text transform="translate(10.2 159.85) rotate(-90)" x="0" y="0" font-size="13.5" text-anchor="middle" fill="#000">Change in cardiac output</text>
<text transform="translate(24.6 159.85) rotate(-90)" x="0" y="0" font-size="13.5" text-anchor="middle" fill="#000">(L/min)</text>
<text transform="translate(10.2 413.25) rotate(-90)" x="0" y="0" font-size="13.5" text-anchor="middle" fill="#000">Change in systolic pressure</text>
<text transform="translate(24.6 413.25) rotate(-90)" x="0" y="0" font-size="13.5" text-anchor="middle" fill="#000">(mm Hg)</text>
<text transform="translate(10.2 667) rotate(-90)" x="0" y="0" font-size="13.5" text-anchor="middle" fill="#000">Change in rate pressure product</text>
<text transform="translate(24.6 667) rotate(-90)" x="0" y="0" font-size="13.5" text-anchor="middle" fill="#000">(mm Hg·beats/min)</text>
<text x="83.4" y="799" font-size="10.8" fill="#4d4d4d" text-anchor="middle">0.0</text>
<text x="122" y="799" font-size="10.8" fill="#4d4d4d" text-anchor="middle">0.4</text>
<text x="160.6" y="799" font-size="10.8" fill="#4d4d4d" text-anchor="middle">0.8</text>
<text x="199.2" y="799" font-size="10.8" fill="#4d4d4d" text-anchor="middle">1.2</text>
<text x="237.8" y="799" font-size="10.8" fill="#4d4d4d" text-anchor="middle">1.6</text>
<text x="276.4" y="799" font-size="10.8" fill="#4d4d4d" text-anchor="middle">2.0</text>
<text x="315" y="799" font-size="10.8" fill="#4d4d4d" text-anchor="middle">2.4</text>
<text x="353.6" y="799" font-size="10.8" fill="#4d4d4d" text-anchor="middle">2.8</text>
<text x="399" y="799" font-size="10.8" fill="#4d4d4d" text-anchor="middle">0.0</text>
<text x="433.8" y="799" font-size="10.8" fill="#4d4d4d" text-anchor="middle">0.4</text>
<text x="468.6" y="799" font-size="10.8" fill="#4d4d4d" text-anchor="middle">0.8</text>
<text x="503.4" y="799" font-size="10.8" fill="#4d4d4d" text-anchor="middle">1.2</text>
<text x="538.2" y="799" font-size="10.8" fill="#4d4d4d" text-anchor="middle">1.6</text>
<text x="573" y="799" font-size="10.8" fill="#4d4d4d" text-anchor="middle">2.0</text>
<text x="607.8" y="799" font-size="10.8" fill="#4d4d4d" text-anchor="middle">2.4</text>
<text x="642.6" y="799" font-size="10.8" fill="#4d4d4d" text-anchor="middle">2.8</text>
<text x="670.9" y="815.2" font-size="13.7" fill="#000" text-anchor="end">Change in core temperature (°C)</text>
<line x1="385.1" x2="655.8" y1="247.9" y2="247.9" stroke="#bababa" stroke-width="2"/>
<line x1="385.1" x2="655.8" y1="413.6" y2="413.6" stroke="#bababa" stroke-width="2"/>
<line x1="385.1" x2="655.8" y1="750" y2="750" stroke="#bababa" stroke-width="2"/>
<circle cx="465.7" cy="67" r="7.6" fill="#f70845" fill-opacity="0.63" stroke="#fff" stroke-opacity="0.8" stroke-width="0.9"/>
<circle cx="596" cy="65.8" r="4.9" fill="#f70845" fill-opacity="0.63" stroke="#fff" stroke-opacity="0.8" stroke-width="0.9"/>
<circle cx="534.4" cy="119.1" r="5.5" fill="#f70845" fill-opacity="0.63" stroke="#fff" stroke-opacity="0.8" stroke-width="0.9"/>
<circle cx="464.9" cy="151.6" r="7" fill="#f70845" fill-opacity="0.63" stroke="#fff" stroke-opacity="0.8" stroke-width="0.9"/>
<circle cx="477.7" cy="150.4" r="7.5" fill="#f70845" fill-opacity="0.63" stroke="#fff" stroke-opacity="0.8" stroke-width="0.9"/>
<circle cx="486.9" cy="154.1" r="7.9" fill="#f70845" fill-opacity="0.63" stroke="#fff" stroke-opacity="0.8" stroke-width="0.9"/>
<circle cx="469.8" cy="166.3" r="7.9" fill="#f70845" fill-opacity="0.63" stroke="#fff" stroke-opacity="0.8" stroke-width="0.9"/>
<circle cx="482.6" cy="171.2" r="7" fill="#f70845" fill-opacity="0.63" stroke="#fff" stroke-opacity="0.8" stroke-width="0.9"/>
<circle cx="478.3" cy="176.7" r="7.9" fill="#f70845" fill-opacity="0.63" stroke="#fff" stroke-opacity="0.8" stroke-width="0.9"/>
<circle cx="466.7" cy="182.8" r="7.9" fill="#f70845" fill-opacity="0.63" stroke="#fff" stroke-opacity="0.8" stroke-width="0.9"/>
<circle cx="480.8" cy="188.3" r="7.9" fill="#f70845" fill-opacity="0.63" stroke="#fff" stroke-opacity="0.8" stroke-width="0.9"/>
<circle cx="486.9" cy="190.2" r="7.9" fill="#f70845" fill-opacity="0.63" stroke="#fff" stroke-opacity="0.8" stroke-width="0.9"/>
<circle cx="450.8" cy="183.4" r="7.9" fill="#f70845" fill-opacity="0.63" stroke="#fff" stroke-opacity="0.8" stroke-width="0.9"/>
<circle cx="442.2" cy="197.5" r="7.9" fill="#f70845" fill-opacity="0.63" stroke="#fff" stroke-opacity="0.8" stroke-width="0.9"/>
<circle cx="450.8" cy="198.1" r="7.9" fill="#f70845" fill-opacity="0.63" stroke="#fff" stroke-opacity="0.8" stroke-width="0.9"/>
<circle cx="442.2" cy="207.3" r="7.9" fill="#f70845" fill-opacity="0.63" stroke="#fff" stroke-opacity="0.8" stroke-width="0.9"/>
<circle cx="468.5" cy="200" r="7.9" fill="#f70845" fill-opacity="0.63" stroke="#fff" stroke-opacity="0.8" stroke-width="0.9"/>
<circle cx="468.5" cy="206.1" r="7.9" fill="#f70845" fill-opacity="0.63" stroke="#fff" stroke-opacity="0.8" stroke-width="0.9"/>
<circle cx="468.5" cy="210.3" r="7.9" fill="#f70845" fill-opacity="0.63" stroke="#fff" stroke-opacity="0.8" stroke-width="0.9"/>
<circle cx="486.3" cy="203.6" r="7.9" fill="#f70845" fill-opacity="0.63" stroke="#fff" stroke-opacity="0.8" stroke-width="0.9"/>
<circle cx="485" cy="209.7" r="7.9" fill="#f70845" fill-opacity="0.63" stroke="#fff" stroke-opacity="0.8" stroke-width="0.9"/>
<circle cx="494.8" cy="212.2" r="7.9" fill="#f70845" fill-opacity="0.63" stroke="#fff" stroke-opacity="0.8" stroke-width="0.9"/>
<circle cx="467.9" cy="218.3" r="7.9" fill="#f70845" fill-opacity="0.63" stroke="#fff" stroke-opacity="0.8" stroke-width="0.9"/>
<circle cx="469.1" cy="228.1" r="7.9" fill="#f70845" fill-opacity="0.63" stroke="#fff" stroke-opacity="0.8" stroke-width="0.9"/>
<circle cx="442.2" cy="223.2" r="7.9" fill="#f70845" fill-opacity="0.63" stroke="#fff" stroke-opacity="0.8" stroke-width="0.9"/>
<circle cx="448.3" cy="229.3" r="7.9" fill="#f70845" fill-opacity="0.63" stroke="#fff" stroke-opacity="0.8" stroke-width="0.9"/>
<circle cx="430.6" cy="219.5" r="7.9" fill="#f70845" fill-opacity="0.63" stroke="#fff" stroke-opacity="0.8" stroke-width="0.9"/>
<circle cx="434.9" cy="231.7" r="7.9" fill="#f70845" fill-opacity="0.63" stroke="#fff" stroke-opacity="0.8" stroke-width="0.9"/>
<circle cx="499.7" cy="166.9" r="7.9" fill="#f70845" fill-opacity="0.63" stroke="#fff" stroke-opacity="0.8" stroke-width="0.9"/>
<circle cx="504.6" cy="170" r="7.9" fill="#f70845" fill-opacity="0.63" stroke="#fff" stroke-opacity="0.8" stroke-width="0.9"/>
<circle cx="508.3" cy="181.6" r="7.9" fill="#f70845" fill-opacity="0.63" stroke="#fff" stroke-opacity="0.8" stroke-width="0.9"/>
<circle cx="502.2" cy="193.8" r="7.9" fill="#f70845" fill-opacity="0.63" stroke="#fff" stroke-opacity="0.8" stroke-width="0.9"/>
<circle cx="418.9" cy="204.6" r="7.9" fill="#f70845" fill-opacity="0.63" stroke="#fff" stroke-opacity="0.8" stroke-width="0.9"/>
<circle cx="416.5" cy="216.3" r="7.9" fill="#f70845" fill-opacity="0.63" stroke="#fff" stroke-opacity="0.8" stroke-width="0.9"/>
<circle cx="425.3" cy="219.8" r="7.9" fill="#f70845" fill-opacity="0.63" stroke="#fff" stroke-opacity="0.8" stroke-width="0.9"/>
<circle cx="410.7" cy="227.4" r="7.9" fill="#f70845" fill-opacity="0.63" stroke="#fff" stroke-opacity="0.8" stroke-width="0.9"/>
<circle cx="418.9" cy="239.1" r="7.9" fill="#f70845" fill-opacity="0.63" stroke="#fff" stroke-opacity="0.8" stroke-width="0.9"/>
<circle cx="416.5" cy="246.1" r="7.9" fill="#f70845" fill-opacity="0.63" stroke="#fff" stroke-opacity="0.8" stroke-width="0.9"/>
<circle cx="407.8" cy="255.4" r="7.9" fill="#f70845" fill-opacity="0.63" stroke="#fff" stroke-opacity="0.8" stroke-width="0.9"/>
<circle cx="414.2" cy="253.1" r="7.9" fill="#f70845" fill-opacity="0.63" stroke="#fff" stroke-opacity="0.8" stroke-width="0.9"/>
<circle cx="442.2" cy="258.9" r="7.9" fill="#f70845" fill-opacity="0.63" stroke="#fff" stroke-opacity="0.8" stroke-width="0.9"/>
<circle cx="422.4" cy="243.7" r="7.9" fill="#f70845" fill-opacity="0.63" stroke="#fff" stroke-opacity="0.8" stroke-width="0.9"/>
<circle cx="529.2" cy="135.8" r="7.9" fill="#f70845" fill-opacity="0.63" stroke="#fff" stroke-opacity="0.8" stroke-width="0.9"/>
<circle cx="502.9" cy="130.1" r="7.9" fill="#f70845" fill-opacity="0.63" stroke="#fff" stroke-opacity="0.8" stroke-width="0.9"/>
<circle cx="502.9" cy="136.3" r="7.9" fill="#f70845" fill-opacity="0.63" stroke="#fff" stroke-opacity="0.8" stroke-width="0.9"/>
<circle cx="495.9" cy="134.5" r="7.9" fill="#f70845" fill-opacity="0.63" stroke="#fff" stroke-opacity="0.8" stroke-width="0.9"/>
<circle cx="529.2" cy="166.9" r="7.9" fill="#f70845" fill-opacity="0.63" stroke="#fff" stroke-opacity="0.8" stroke-width="0.9"/>
<circle cx="520.4" cy="173.1" r="7.9" fill="#f70845" fill-opacity="0.63" stroke="#fff" stroke-opacity="0.8" stroke-width="0.9"/>
<circle cx="513.4" cy="180.1" r="7.9" fill="#f70845" fill-opacity="0.63" stroke="#fff" stroke-opacity="0.8" stroke-width="0.9"/>
<circle cx="558.1" cy="169.6" r="7.9" fill="#f70845" fill-opacity="0.63" stroke="#fff" stroke-opacity="0.8" stroke-width="0.9"/>
<circle cx="573" cy="164.7" r="7.9" fill="#f70845" fill-opacity="0.63" stroke="#fff" stroke-opacity="0.8" stroke-width="0.9"/>
<circle cx="556.3" cy="179.2" r="7.9" fill="#f70845" fill-opacity="0.63" stroke="#fff" stroke-opacity="0.8" stroke-width="0.9"/>
<circle cx="551.1" cy="185.3" r="7.9" fill="#f70845" fill-opacity="0.63" stroke="#fff" stroke-opacity="0.8" stroke-width="0.9"/>
<circle cx="565.1" cy="188" r="7.9" fill="#f70845" fill-opacity="0.63" stroke="#fff" stroke-opacity="0.8" stroke-width="0.9"/>
<circle cx="573" cy="192.3" r="7.9" fill="#f70845" fill-opacity="0.63" stroke="#fff" stroke-opacity="0.8" stroke-width="0.9"/>
<circle cx="529.2" cy="188" r="7.9" fill="#f70845" fill-opacity="0.63" stroke="#fff" stroke-opacity="0.8" stroke-width="0.9"/>
<circle cx="536.2" cy="191.5" r="7.9" fill="#f70845" fill-opacity="0.63" stroke="#fff" stroke-opacity="0.8" stroke-width="0.9"/>
<circle cx="541.4" cy="194.1" r="7.9" fill="#f70845" fill-opacity="0.63" stroke="#fff" stroke-opacity="0.8" stroke-width="0.9"/>
<circle cx="544.1" cy="202" r="7.9" fill="#f70845" fill-opacity="0.63" stroke="#fff" stroke-opacity="0.8" stroke-width="0.9"/>
<circle cx="524.8" cy="201.1" r="7.9" fill="#f70845" fill-opacity="0.63" stroke="#fff" stroke-opacity="0.8" stroke-width="0.9"/>
<circle cx="516" cy="195" r="7.9" fill="#f70845" fill-opacity="0.63" stroke="#fff" stroke-opacity="0.8" stroke-width="0.9"/>
<circle cx="512.5" cy="216" r="7.9" fill="#f70845" fill-opacity="0.63" stroke="#fff" stroke-opacity="0.8" stroke-width="0.9"/>
<circle cx="526.5" cy="222.1" r="7.9" fill="#f70845" fill-opacity="0.63" stroke="#fff" stroke-opacity="0.8" stroke-width="0.9"/>
<circle cx="433.7" cy="168.1" r="8.1" fill="#95a5a6" fill-opacity="0.5" stroke="#fff" stroke-opacity="0.8" stroke-width="0.9"/>
<circle cx="450.2" cy="214.6" r="8.1" fill="#95a5a6" fill-opacity="0.5" stroke="#fff" stroke-opacity="0.8" stroke-width="0.9"/>
<circle cx="479.5" cy="220.1" r="8.1" fill="#95a5a6" fill-opacity="0.5" stroke="#fff" stroke-opacity="0.8" stroke-width="0.9"/>
<circle cx="502.2" cy="199.9" r="8.1" fill="#95a5a6" fill-opacity="0.5" stroke="#fff" stroke-opacity="0.8" stroke-width="0.9"/>
<circle cx="504.6" cy="212.2" r="8.1" fill="#95a5a6" fill-opacity="0.5" stroke="#fff" stroke-opacity="0.8" stroke-width="0.9"/>
<circle cx="467.9" cy="234.2" r="8.1" fill="#95a5a6" fill-opacity="0.5" stroke="#fff" stroke-opacity="0.8" stroke-width="0.9"/>
<circle cx="436.1" cy="236.6" r="8.1" fill="#95a5a6" fill-opacity="0.5" stroke="#fff" stroke-opacity="0.8" stroke-width="0.9"/>
<circle cx="511.6" cy="233.5" r="8.1" fill="#95a5a6" fill-opacity="0.5" stroke="#fff" stroke-opacity="0.8" stroke-width="0.9"/>
<circle cx="401.4" cy="218" r="8.1" fill="#95a5a6" fill-opacity="0.5" stroke="#fff" stroke-opacity="0.8" stroke-width="0.9"/>
<circle cx="418.9" cy="221.5" r="8.1" fill="#95a5a6" fill-opacity="0.5" stroke="#fff" stroke-opacity="0.8" stroke-width="0.9"/>
<circle cx="405.4" cy="237.9" r="8.1" fill="#95a5a6" fill-opacity="0.5" stroke="#fff" stroke-opacity="0.8" stroke-width="0.9"/>
<circle cx="416" cy="236.1" r="8.1" fill="#95a5a6" fill-opacity="0.5" stroke="#fff" stroke-opacity="0.8" stroke-width="0.9"/>
<circle cx="451" cy="243.7" r="8.1" fill="#95a5a6" fill-opacity="0.5" stroke="#fff" stroke-opacity="0.8" stroke-width="0.9"/>
<circle cx="441.1" cy="249.6" r="8.1" fill="#95a5a6" fill-opacity="0.5" stroke="#fff" stroke-opacity="0.8" stroke-width="0.9"/>
<circle cx="427.6" cy="260.1" r="8.1" fill="#95a5a6" fill-opacity="0.5" stroke="#fff" stroke-opacity="0.8" stroke-width="0.9"/>
<circle cx="430.5" cy="246.1" r="8.1" fill="#95a5a6" fill-opacity="0.5" stroke="#fff" stroke-opacity="0.8" stroke-width="0.9"/>
<circle cx="462" cy="236.7" r="8.1" fill="#95a5a6" fill-opacity="0.5" stroke="#fff" stroke-opacity="0.8" stroke-width="0.9"/>
<circle cx="472.6" cy="248.1" r="8.1" fill="#95a5a6" fill-opacity="0.5" stroke="#fff" stroke-opacity="0.8" stroke-width="0.9"/>
<circle cx="478.8" cy="381.5" r="7.6" fill="#f70845" fill-opacity="0.63" stroke="#fff" stroke-opacity="0.8" stroke-width="0.9"/>
<circle cx="478.8" cy="388.8" r="7.6" fill="#f70845" fill-opacity="0.63" stroke="#fff" stroke-opacity="0.8" stroke-width="0.9"/>
<circle cx="491.2" cy="384.4" r="7.6" fill="#f70845" fill-opacity="0.63" stroke="#fff" stroke-opacity="0.8" stroke-width="0.9"/>
<circle cx="491.2" cy="392.4" r="7.6" fill="#f70845" fill-opacity="0.63" stroke="#fff" stroke-opacity="0.8" stroke-width="0.9"/>
<circle cx="502.8" cy="391" r="7.6" fill="#f70845" fill-opacity="0.63" stroke="#fff" stroke-opacity="0.8" stroke-width="0.9"/>
<circle cx="502.8" cy="385.8" r="7.6" fill="#f70845" fill-opacity="0.63" stroke="#fff" stroke-opacity="0.8" stroke-width="0.9"/>
<circle cx="516.7" cy="389.5" r="7.6" fill="#f70845" fill-opacity="0.63" stroke="#fff" stroke-opacity="0.8" stroke-width="0.9"/>
<circle cx="481" cy="399.7" r="7.6" fill="#f70845" fill-opacity="0.63" stroke="#fff" stroke-opacity="0.8" stroke-width="0.9"/>
<circle cx="494.1" cy="405.5" r="7.6" fill="#f70845" fill-opacity="0.63" stroke="#fff" stroke-opacity="0.8" stroke-width="0.9"/>
<circle cx="512.3" cy="401.9" r="7.6" fill="#f70845" fill-opacity="0.63" stroke="#fff" stroke-opacity="0.8" stroke-width="0.9"/>
<circle cx="512.3" cy="410.7" r="7.6" fill="#f70845" fill-opacity="0.63" stroke="#fff" stroke-opacity="0.8" stroke-width="0.9"/>
<circle cx="487.5" cy="418" r="7.6" fill="#f70845" fill-opacity="0.63" stroke="#fff" stroke-opacity="0.8" stroke-width="0.9"/>
<circle cx="486.8" cy="425.3" r="7.6" fill="#f70845" fill-opacity="0.63" stroke="#fff" stroke-opacity="0.8" stroke-width="0.9"/>
<circle cx="450.8" cy="376.4" r="7.6" fill="#f70845" fill-opacity="0.63" stroke="#fff" stroke-opacity="0.8" stroke-width="0.9"/>
<circle cx="468.4" cy="371.1" r="7.6" fill="#f70845" fill-opacity="0.63" stroke="#fff" stroke-opacity="0.8" stroke-width="0.9"/>
<circle cx="476" cy="361.8" r="7.6" fill="#f70845" fill-opacity="0.63" stroke="#fff" stroke-opacity="0.8" stroke-width="0.9"/>
<circle cx="483.5" cy="362.9" r="7.6" fill="#f70845" fill-opacity="0.63" stroke="#fff" stroke-opacity="0.8" stroke-width="0.9"/>
<circle cx="478.9" cy="376.9" r="7.6" fill="#f70845" fill-opacity="0.63" stroke="#fff" stroke-opacity="0.8" stroke-width="0.9"/>
<circle cx="467.2" cy="386.3" r="7.6" fill="#f70845" fill-opacity="0.63" stroke="#fff" stroke-opacity="0.8" stroke-width="0.9"/>
<circle cx="454.9" cy="397.4" r="7.6" fill="#f70845" fill-opacity="0.63" stroke="#fff" stroke-opacity="0.8" stroke-width="0.9"/>
<circle cx="477.7" cy="396.2" r="7.6" fill="#f70845" fill-opacity="0.63" stroke="#fff" stroke-opacity="0.8" stroke-width="0.9"/>
<circle cx="424.9" cy="388.3" r="7.6" fill="#f70845" fill-opacity="0.63" stroke="#fff" stroke-opacity="0.8" stroke-width="0.9"/>
<circle cx="430.4" cy="394.5" r="7.6" fill="#f70845" fill-opacity="0.63" stroke="#fff" stroke-opacity="0.8" stroke-width="0.9"/>
<circle cx="403.5" cy="403" r="7.6" fill="#f70845" fill-opacity="0.63" stroke="#fff" stroke-opacity="0.8" stroke-width="0.9"/>
<circle cx="445" cy="399.4" r="7.6" fill="#f70845" fill-opacity="0.63" stroke="#fff" stroke-opacity="0.8" stroke-width="0.9"/>
<circle cx="458.5" cy="404.3" r="7.6" fill="#f70845" fill-opacity="0.63" stroke="#fff" stroke-opacity="0.8" stroke-width="0.9"/>
<circle cx="447.5" cy="407.9" r="7.6" fill="#f70845" fill-opacity="0.63" stroke="#fff" stroke-opacity="0.8" stroke-width="0.9"/>
<circle cx="443.8" cy="438.5" r="7.6" fill="#f70845" fill-opacity="0.63" stroke="#fff" stroke-opacity="0.8" stroke-width="0.9"/>
<circle cx="452.4" cy="443.4" r="7.6" fill="#f70845" fill-opacity="0.63" stroke="#fff" stroke-opacity="0.8" stroke-width="0.9"/>
<circle cx="447.5" cy="448.3" r="7.6" fill="#f70845" fill-opacity="0.63" stroke="#fff" stroke-opacity="0.8" stroke-width="0.9"/>
<circle cx="441.4" cy="458.1" r="7.6" fill="#f70845" fill-opacity="0.63" stroke="#fff" stroke-opacity="0.8" stroke-width="0.9"/>
<circle cx="451.2" cy="467.9" r="7.6" fill="#f70845" fill-opacity="0.63" stroke="#fff" stroke-opacity="0.8" stroke-width="0.9"/>
<circle cx="465.8" cy="406.7" r="7.6" fill="#f70845" fill-opacity="0.63" stroke="#fff" stroke-opacity="0.8" stroke-width="0.9"/>
<circle cx="449.9" cy="430" r="7.6" fill="#f70845" fill-opacity="0.63" stroke="#fff" stroke-opacity="0.8" stroke-width="0.9"/>
<circle cx="491.7" cy="381.6" r="7.6" fill="#f70845" fill-opacity="0.63" stroke="#fff" stroke-opacity="0.8" stroke-width="0.9"/>
<circle cx="497.8" cy="391.3" r="7.6" fill="#f70845" fill-opacity="0.63" stroke="#fff" stroke-opacity="0.8" stroke-width="0.9"/>
<circle cx="463.6" cy="407" r="7.6" fill="#f70845" fill-opacity="0.63" stroke="#fff" stroke-opacity="0.8" stroke-width="0.9"/>
<circle cx="452.3" cy="404.4" r="7.6" fill="#f70845" fill-opacity="0.63" stroke="#fff" stroke-opacity="0.8" stroke-width="0.9"/>
<circle cx="476.8" cy="422.8" r="7.6" fill="#f70845" fill-opacity="0.63" stroke="#fff" stroke-opacity="0.8" stroke-width="0.9"/>
<circle cx="511.9" cy="365.5" r="7.6" fill="#f70845" fill-opacity="0.63" stroke="#fff" stroke-opacity="0.8" stroke-width="0.9"/>
<circle cx="527.7" cy="364.6" r="7.6" fill="#f70845" fill-opacity="0.63" stroke="#fff" stroke-opacity="0.8" stroke-width="0.9"/>
<circle cx="527.7" cy="369.9" r="7.6" fill="#f70845" fill-opacity="0.63" stroke="#fff" stroke-opacity="0.8" stroke-width="0.9"/>
<circle cx="521.5" cy="373.4" r="7.6" fill="#f70845" fill-opacity="0.63" stroke="#fff" stroke-opacity="0.8" stroke-width="0.9"/>
<circle cx="538.2" cy="376.9" r="7.6" fill="#f70845" fill-opacity="0.63" stroke="#fff" stroke-opacity="0.8" stroke-width="0.9"/>
<circle cx="529.4" cy="388.3" r="7.6" fill="#f70845" fill-opacity="0.63" stroke="#fff" stroke-opacity="0.8" stroke-width="0.9"/>
<circle cx="529.4" cy="391.8" r="7.6" fill="#f70845" fill-opacity="0.63" stroke="#fff" stroke-opacity="0.8" stroke-width="0.9"/>
<circle cx="530.3" cy="402.3" r="7.6" fill="#f70845" fill-opacity="0.63" stroke="#fff" stroke-opacity="0.8" stroke-width="0.9"/>
<circle cx="531.2" cy="411.1" r="7.6" fill="#f70845" fill-opacity="0.63" stroke="#fff" stroke-opacity="0.8" stroke-width="0.9"/>
<circle cx="490" cy="358.5" r="7.6" fill="#f70845" fill-opacity="0.63" stroke="#fff" stroke-opacity="0.8" stroke-width="0.9"/>
<circle cx="451.4" cy="398.7" r="7.6" fill="#f70845" fill-opacity="0.63" stroke="#fff" stroke-opacity="0.8" stroke-width="0.9"/>
<circle cx="441.2" cy="432.4" r="7.6" fill="#f70845" fill-opacity="0.63" stroke="#fff" stroke-opacity="0.8" stroke-width="0.9"/>
<circle cx="450.4" cy="472.2" r="7.6" fill="#f70845" fill-opacity="0.63" stroke="#fff" stroke-opacity="0.8" stroke-width="0.9"/>
<circle cx="487.4" cy="385.8" r="7.6" fill="#f70845" fill-opacity="0.63" stroke="#fff" stroke-opacity="0.8" stroke-width="0.9"/>
<circle cx="487.4" cy="404.1" r="7.6" fill="#f70845" fill-opacity="0.63" stroke="#fff" stroke-opacity="0.8" stroke-width="0.9"/>
<circle cx="452.4" cy="407" r="7.6" fill="#f70845" fill-opacity="0.63" stroke="#fff" stroke-opacity="0.8" stroke-width="0.9"/>
<circle cx="464.1" cy="410.7" r="7.6" fill="#f70845" fill-opacity="0.63" stroke="#fff" stroke-opacity="0.8" stroke-width="0.9"/>
<circle cx="480.9" cy="426.7" r="7.6" fill="#f70845" fill-opacity="0.63" stroke="#fff" stroke-opacity="0.8" stroke-width="0.9"/>
<circle cx="460" cy="400" r="7.6" fill="#f70845" fill-opacity="0.63" stroke="#fff" stroke-opacity="0.8" stroke-width="0.9"/>
<circle cx="470" cy="395" r="7.6" fill="#f70845" fill-opacity="0.63" stroke="#fff" stroke-opacity="0.8" stroke-width="0.9"/>
<circle cx="491.6" cy="351.2" r="7.6" fill="#f70845" fill-opacity="0.63" stroke="#fff" stroke-opacity="0.8" stroke-width="0.9"/>
<circle cx="475.5" cy="358.6" r="7.6" fill="#f70845" fill-opacity="0.63" stroke="#fff" stroke-opacity="0.8" stroke-width="0.9"/>
<circle cx="486.1" cy="359.9" r="7.6" fill="#f70845" fill-opacity="0.63" stroke="#fff" stroke-opacity="0.8" stroke-width="0.9"/>
<circle cx="477.4" cy="387.1" r="7.6" fill="#f70845" fill-opacity="0.63" stroke="#fff" stroke-opacity="0.8" stroke-width="0.9"/>
<circle cx="518.3" cy="391.5" r="7.6" fill="#f70845" fill-opacity="0.63" stroke="#fff" stroke-opacity="0.8" stroke-width="0.9"/>
<circle cx="509.6" cy="410.7" r="7.6" fill="#f70845" fill-opacity="0.63" stroke="#fff" stroke-opacity="0.8" stroke-width="0.9"/>
<circle cx="529.5" cy="415.7" r="7.6" fill="#f70845" fill-opacity="0.63" stroke="#fff" stroke-opacity="0.8" stroke-width="0.9"/>
<circle cx="484.8" cy="418.2" r="7.6" fill="#f70845" fill-opacity="0.63" stroke="#fff" stroke-opacity="0.8" stroke-width="0.9"/>
<circle cx="484.8" cy="426.8" r="7.6" fill="#f70845" fill-opacity="0.63" stroke="#fff" stroke-opacity="0.8" stroke-width="0.9"/>
<circle cx="492.3" cy="438" r="7.6" fill="#f70845" fill-opacity="0.63" stroke="#fff" stroke-opacity="0.8" stroke-width="0.9"/>
<circle cx="512.1" cy="436.8" r="7.6" fill="#f70845" fill-opacity="0.63" stroke="#fff" stroke-opacity="0.8" stroke-width="0.9"/>
<circle cx="442.3" cy="494.1" r="7.6" fill="#f70845" fill-opacity="0.63" stroke="#fff" stroke-opacity="0.8" stroke-width="0.9"/>
<circle cx="470.3" cy="486.2" r="7.6" fill="#f70845" fill-opacity="0.63" stroke="#fff" stroke-opacity="0.8" stroke-width="0.9"/>
<circle cx="477.3" cy="481.8" r="7.6" fill="#f70845" fill-opacity="0.63" stroke="#fff" stroke-opacity="0.8" stroke-width="0.9"/>
<circle cx="443.1" cy="436.3" r="7.6" fill="#f70845" fill-opacity="0.63" stroke="#fff" stroke-opacity="0.8" stroke-width="0.9"/>
<circle cx="484.3" cy="464.3" r="7.6" fill="#f70845" fill-opacity="0.63" stroke="#fff" stroke-opacity="0.8" stroke-width="0.9"/>
<circle cx="482.6" cy="452.9" r="7.6" fill="#f70845" fill-opacity="0.63" stroke="#fff" stroke-opacity="0.8" stroke-width="0.9"/>
<circle cx="494" cy="442.4" r="7.6" fill="#f70845" fill-opacity="0.63" stroke="#fff" stroke-opacity="0.8" stroke-width="0.9"/>
<circle cx="510.6" cy="438.9" r="7.6" fill="#f70845" fill-opacity="0.63" stroke="#fff" stroke-opacity="0.8" stroke-width="0.9"/>
<circle cx="503.6" cy="473.1" r="7.6" fill="#f70845" fill-opacity="0.63" stroke="#fff" stroke-opacity="0.8" stroke-width="0.9"/>
<circle cx="511.5" cy="472.2" r="7.6" fill="#f70845" fill-opacity="0.63" stroke="#fff" stroke-opacity="0.8" stroke-width="0.9"/>
<circle cx="524.6" cy="465.2" r="7.6" fill="#f70845" fill-opacity="0.63" stroke="#fff" stroke-opacity="0.8" stroke-width="0.9"/>
<circle cx="540.4" cy="448.5" r="7.6" fill="#f70845" fill-opacity="0.63" stroke="#fff" stroke-opacity="0.8" stroke-width="0.9"/>
<circle cx="509.7" cy="413.5" r="7.6" fill="#f70845" fill-opacity="0.63" stroke="#fff" stroke-opacity="0.8" stroke-width="0.9"/>
<circle cx="508.8" cy="455.6" r="7.6" fill="#f70845" fill-opacity="0.63" stroke="#fff" stroke-opacity="0.8" stroke-width="0.9"/>
<circle cx="551.1" cy="332.4" r="7.6" fill="#f70845" fill-opacity="0.63" stroke="#fff" stroke-opacity="0.8" stroke-width="0.9"/>
<circle cx="581.4" cy="348.5" r="7.6" fill="#f70845" fill-opacity="0.63" stroke="#fff" stroke-opacity="0.8" stroke-width="0.9"/>
<circle cx="424.4" cy="437.9" r="7.6" fill="#f70845" fill-opacity="0.63" stroke="#fff" stroke-opacity="0.8" stroke-width="0.9"/>
<circle cx="564.2" cy="458.2" r="7.6" fill="#f70845" fill-opacity="0.63" stroke="#fff" stroke-opacity="0.8" stroke-width="0.9"/>
<circle cx="564.2" cy="469.6" r="7.6" fill="#f70845" fill-opacity="0.63" stroke="#fff" stroke-opacity="0.8" stroke-width="0.9"/>
<circle cx="511.6" cy="460.8" r="7.6" fill="#f70845" fill-opacity="0.63" stroke="#fff" stroke-opacity="0.8" stroke-width="0.9"/>
<circle cx="474.4" cy="413.6" r="8.1" fill="#95a5a6" fill-opacity="0.5" stroke="#fff" stroke-opacity="0.8" stroke-width="0.9"/>
<circle cx="516.7" cy="414.3" r="8.1" fill="#95a5a6" fill-opacity="0.5" stroke="#fff" stroke-opacity="0.8" stroke-width="0.9"/>
<circle cx="445" cy="388" r="8.1" fill="#95a5a6" fill-opacity="0.5" stroke="#fff" stroke-opacity="0.8" stroke-width="0.9"/>
<circle cx="467.2" cy="396.2" r="8.1" fill="#95a5a6" fill-opacity="0.5" stroke="#fff" stroke-opacity="0.8" stroke-width="0.9"/>
<circle cx="407.5" cy="383.4" r="8.1" fill="#95a5a6" fill-opacity="0.5" stroke="#fff" stroke-opacity="0.8" stroke-width="0.9"/>
<circle cx="441.7" cy="389.5" r="8.1" fill="#95a5a6" fill-opacity="0.5" stroke="#fff" stroke-opacity="0.8" stroke-width="0.9"/>
<circle cx="409.5" cy="397.7" r="8.1" fill="#95a5a6" fill-opacity="0.5" stroke="#fff" stroke-opacity="0.8" stroke-width="0.9"/>
<circle cx="415.7" cy="395.7" r="8.1" fill="#95a5a6" fill-opacity="0.5" stroke="#fff" stroke-opacity="0.8" stroke-width="0.9"/>
<circle cx="416.7" cy="405.9" r="8.1" fill="#95a5a6" fill-opacity="0.5" stroke="#fff" stroke-opacity="0.8" stroke-width="0.9"/>
<circle cx="433.5" cy="403.8" r="8.1" fill="#95a5a6" fill-opacity="0.5" stroke="#fff" stroke-opacity="0.8" stroke-width="0.9"/>
<circle cx="404.4" cy="413" r="8.1" fill="#95a5a6" fill-opacity="0.5" stroke="#fff" stroke-opacity="0.8" stroke-width="0.9"/>
<circle cx="424.9" cy="414" r="8.1" fill="#95a5a6" fill-opacity="0.5" stroke="#fff" stroke-opacity="0.8" stroke-width="0.9"/>
<circle cx="439.2" cy="417.1" r="8.1" fill="#95a5a6" fill-opacity="0.5" stroke="#fff" stroke-opacity="0.8" stroke-width="0.9"/>
<circle cx="450.4" cy="418.1" r="8.1" fill="#95a5a6" fill-opacity="0.5" stroke="#fff" stroke-opacity="0.8" stroke-width="0.9"/>
<circle cx="398.3" cy="424.3" r="8.1" fill="#95a5a6" fill-opacity="0.5" stroke="#fff" stroke-opacity="0.8" stroke-width="0.9"/>
<circle cx="407.5" cy="424.3" r="8.1" fill="#95a5a6" fill-opacity="0.5" stroke="#fff" stroke-opacity="0.8" stroke-width="0.9"/>
<circle cx="425.9" cy="423.2" r="8.1" fill="#95a5a6" fill-opacity="0.5" stroke="#fff" stroke-opacity="0.8" stroke-width="0.9"/>
<circle cx="436.1" cy="421.1" r="8.1" fill="#95a5a6" fill-opacity="0.5" stroke="#fff" stroke-opacity="0.8" stroke-width="0.9"/>
<circle cx="400.3" cy="435.4" r="8.1" fill="#95a5a6" fill-opacity="0.5" stroke="#fff" stroke-opacity="0.8" stroke-width="0.9"/>
<circle cx="403.9" cy="441.1" r="8.1" fill="#95a5a6" fill-opacity="0.5" stroke="#fff" stroke-opacity="0.8" stroke-width="0.9"/>
<circle cx="408.5" cy="433.9" r="8.1" fill="#95a5a6" fill-opacity="0.5" stroke="#fff" stroke-opacity="0.8" stroke-width="0.9"/>
<circle cx="422.8" cy="429.3" r="8.1" fill="#95a5a6" fill-opacity="0.5" stroke="#fff" stroke-opacity="0.8" stroke-width="0.9"/>
<circle cx="408.5" cy="458.4" r="8.1" fill="#95a5a6" fill-opacity="0.5" stroke="#fff" stroke-opacity="0.8" stroke-width="0.9"/>
<circle cx="424.9" cy="441.1" r="8.1" fill="#95a5a6" fill-opacity="0.5" stroke="#fff" stroke-opacity="0.8" stroke-width="0.9"/>
<circle cx="440.2" cy="442.6" r="8.1" fill="#95a5a6" fill-opacity="0.5" stroke="#fff" stroke-opacity="0.8" stroke-width="0.9"/>
<circle cx="448.4" cy="459" r="8.1" fill="#95a5a6" fill-opacity="0.5" stroke="#fff" stroke-opacity="0.8" stroke-width="0.9"/>
<circle cx="467" cy="399.7" r="8.1" fill="#95a5a6" fill-opacity="0.5" stroke="#fff" stroke-opacity="0.8" stroke-width="0.9"/>
<circle cx="416.3" cy="426.3" r="8.1" fill="#95a5a6" fill-opacity="0.5" stroke="#fff" stroke-opacity="0.8" stroke-width="0.9"/>
<circle cx="458.5" cy="418.3" r="8.1" fill="#95a5a6" fill-opacity="0.5" stroke="#fff" stroke-opacity="0.8" stroke-width="0.9"/>
<circle cx="416.9" cy="433.6" r="8.1" fill="#95a5a6" fill-opacity="0.5" stroke="#fff" stroke-opacity="0.8" stroke-width="0.9"/>
<circle cx="449.9" cy="428.7" r="8.1" fill="#95a5a6" fill-opacity="0.5" stroke="#fff" stroke-opacity="0.8" stroke-width="0.9"/>
<circle cx="467.1" cy="448.3" r="8.1" fill="#95a5a6" fill-opacity="0.5" stroke="#fff" stroke-opacity="0.8" stroke-width="0.9"/>
<circle cx="467.1" cy="460.5" r="8.1" fill="#95a5a6" fill-opacity="0.5" stroke="#fff" stroke-opacity="0.8" stroke-width="0.9"/>
<circle cx="465.8" cy="438.5" r="8.1" fill="#95a5a6" fill-opacity="0.5" stroke="#fff" stroke-opacity="0.8" stroke-width="0.9"/>
<circle cx="445.3" cy="417.6" r="8.1" fill="#95a5a6" fill-opacity="0.5" stroke="#fff" stroke-opacity="0.8" stroke-width="0.9"/>
<circle cx="524.5" cy="430" r="8.1" fill="#95a5a6" fill-opacity="0.5" stroke="#fff" stroke-opacity="0.8" stroke-width="0.9"/>
<circle cx="469.9" cy="431.8" r="8.1" fill="#95a5a6" fill-opacity="0.5" stroke="#fff" stroke-opacity="0.8" stroke-width="0.9"/>
<circle cx="507.1" cy="438" r="8.1" fill="#95a5a6" fill-opacity="0.5" stroke="#fff" stroke-opacity="0.8" stroke-width="0.9"/>
<circle cx="529.5" cy="438.6" r="8.1" fill="#95a5a6" fill-opacity="0.5" stroke="#fff" stroke-opacity="0.8" stroke-width="0.9"/>
<circle cx="476.1" cy="434.3" r="8.1" fill="#95a5a6" fill-opacity="0.5" stroke="#fff" stroke-opacity="0.8" stroke-width="0.9"/>
<circle cx="470.3" cy="461.7" r="8.1" fill="#95a5a6" fill-opacity="0.5" stroke="#fff" stroke-opacity="0.8" stroke-width="0.9"/>
<circle cx="472" cy="442.4" r="8.1" fill="#95a5a6" fill-opacity="0.5" stroke="#fff" stroke-opacity="0.8" stroke-width="0.9"/>
<circle cx="495.7" cy="458.2" r="8.1" fill="#95a5a6" fill-opacity="0.5" stroke="#fff" stroke-opacity="0.8" stroke-width="0.9"/>
<circle cx="491.3" cy="472.2" r="8.1" fill="#95a5a6" fill-opacity="0.5" stroke="#fff" stroke-opacity="0.8" stroke-width="0.9"/>
<circle cx="507.1" cy="450.3" r="8.1" fill="#95a5a6" fill-opacity="0.5" stroke="#fff" stroke-opacity="0.8" stroke-width="0.9"/>
<circle cx="505.3" cy="440.7" r="8.1" fill="#95a5a6" fill-opacity="0.5" stroke="#fff" stroke-opacity="0.8" stroke-width="0.9"/>
<circle cx="526.4" cy="445" r="8.1" fill="#95a5a6" fill-opacity="0.5" stroke="#fff" stroke-opacity="0.8" stroke-width="0.9"/>
<circle cx="529.9" cy="448.5" r="8.1" fill="#95a5a6" fill-opacity="0.5" stroke="#fff" stroke-opacity="0.8" stroke-width="0.9"/>
<circle cx="519.3" cy="417" r="8.1" fill="#95a5a6" fill-opacity="0.5" stroke="#fff" stroke-opacity="0.8" stroke-width="0.9"/>
<circle cx="526.4" cy="453.8" r="8.1" fill="#95a5a6" fill-opacity="0.5" stroke="#fff" stroke-opacity="0.8" stroke-width="0.9"/>
<circle cx="523" cy="452" r="8.1" fill="#95a5a6" fill-opacity="0.5" stroke="#fff" stroke-opacity="0.8" stroke-width="0.9"/>
<circle cx="579.5" cy="580" r="7.2" fill="#f70845" fill-opacity="0.63" stroke="#fff" stroke-opacity="0.8" stroke-width="0.9"/>
<circle cx="550.5" cy="624" r="6.3" fill="#f70845" fill-opacity="0.63" stroke="#fff" stroke-opacity="0.8" stroke-width="0.9"/>
<circle cx="527.4" cy="634.2" r="7.6" fill="#f70845" fill-opacity="0.63" stroke="#fff" stroke-opacity="0.8" stroke-width="0.9"/>
<circle cx="526.1" cy="644.3" r="7.6" fill="#f70845" fill-opacity="0.63" stroke="#fff" stroke-opacity="0.8" stroke-width="0.9"/>
<circle cx="530" cy="651.3" r="7.6" fill="#f70845" fill-opacity="0.63" stroke="#fff" stroke-opacity="0.8" stroke-width="0.9"/>
<circle cx="538.8" cy="651.7" r="7.6" fill="#f70845" fill-opacity="0.63" stroke="#fff" stroke-opacity="0.8" stroke-width="0.9"/>
<circle cx="522.2" cy="661.8" r="7.6" fill="#f70845" fill-opacity="0.63" stroke="#fff" stroke-opacity="0.8" stroke-width="0.9"/>
<circle cx="531.8" cy="668.8" r="7.6" fill="#f70845" fill-opacity="0.63" stroke="#fff" stroke-opacity="0.8" stroke-width="0.9"/>
<circle cx="530.9" cy="675.8" r="7.6" fill="#f70845" fill-opacity="0.63" stroke="#fff" stroke-opacity="0.8" stroke-width="0.9"/>
<circle cx="510.8" cy="664.4" r="7.6" fill="#f70845" fill-opacity="0.63" stroke="#fff" stroke-opacity="0.8" stroke-width="0.9"/>
<circle cx="503.3" cy="661.8" r="7.6" fill="#f70845" fill-opacity="0.63" stroke="#fff" stroke-opacity="0.8" stroke-width="0.9"/>
<circle cx="495.9" cy="662.7" r="7.6" fill="#f70845" fill-opacity="0.63" stroke="#fff" stroke-opacity="0.8" stroke-width="0.9"/>
<circle cx="497.6" cy="674" r="7.6" fill="#f70845" fill-opacity="0.63" stroke="#fff" stroke-opacity="0.8" stroke-width="0.9"/>
<circle cx="503.3" cy="681.1" r="7.6" fill="#f70845" fill-opacity="0.63" stroke="#fff" stroke-opacity="0.8" stroke-width="0.9"/>
<circle cx="468.4" cy="648.3" r="7.6" fill="#f70845" fill-opacity="0.63" stroke="#fff" stroke-opacity="0.8" stroke-width="0.9"/>
<circle cx="468.4" cy="662.6" r="7.6" fill="#f70845" fill-opacity="0.63" stroke="#fff" stroke-opacity="0.8" stroke-width="0.9"/>
<circle cx="451" cy="672.8" r="7.6" fill="#f70845" fill-opacity="0.63" stroke="#fff" stroke-opacity="0.8" stroke-width="0.9"/>
<circle cx="484.7" cy="660.5" r="7.6" fill="#f70845" fill-opacity="0.63" stroke="#fff" stroke-opacity="0.8" stroke-width="0.9"/>
<circle cx="481.7" cy="665.7" r="7.6" fill="#f70845" fill-opacity="0.63" stroke="#fff" stroke-opacity="0.8" stroke-width="0.9"/>
<circle cx="492.9" cy="661.6" r="7.6" fill="#f70845" fill-opacity="0.63" stroke="#fff" stroke-opacity="0.8" stroke-width="0.9"/>
<circle cx="518.5" cy="661.6" r="7.6" fill="#f70845" fill-opacity="0.63" stroke="#fff" stroke-opacity="0.8" stroke-width="0.9"/>
<circle cx="475.5" cy="672.8" r="7.6" fill="#f70845" fill-opacity="0.63" stroke="#fff" stroke-opacity="0.8" stroke-width="0.9"/>
<circle cx="478.6" cy="675.9" r="7.6" fill="#f70845" fill-opacity="0.63" stroke="#fff" stroke-opacity="0.8" stroke-width="0.9"/>
<circle cx="491.9" cy="675.9" r="7.6" fill="#f70845" fill-opacity="0.63" stroke="#fff" stroke-opacity="0.8" stroke-width="0.9"/>
<circle cx="511.3" cy="688.1" r="7.6" fill="#f70845" fill-opacity="0.63" stroke="#fff" stroke-opacity="0.8" stroke-width="0.9"/>
<circle cx="468.4" cy="688.1" r="7.6" fill="#f70845" fill-opacity="0.63" stroke="#fff" stroke-opacity="0.8" stroke-width="0.9"/>
<circle cx="470.4" cy="692.2" r="7.6" fill="#f70845" fill-opacity="0.63" stroke="#fff" stroke-opacity="0.8" stroke-width="0.9"/>
<circle cx="484.7" cy="694.3" r="7.6" fill="#f70845" fill-opacity="0.63" stroke="#fff" stroke-opacity="0.8" stroke-width="0.9"/>
<circle cx="493.9" cy="696.3" r="7.6" fill="#f70845" fill-opacity="0.63" stroke="#fff" stroke-opacity="0.8" stroke-width="0.9"/>
<circle cx="503.1" cy="692.2" r="7.6" fill="#f70845" fill-opacity="0.63" stroke="#fff" stroke-opacity="0.8" stroke-width="0.9"/>
<circle cx="456.1" cy="700.4" r="7.6" fill="#f70845" fill-opacity="0.63" stroke="#fff" stroke-opacity="0.8" stroke-width="0.9"/>
<circle cx="462.3" cy="703.5" r="7.6" fill="#f70845" fill-opacity="0.63" stroke="#fff" stroke-opacity="0.8" stroke-width="0.9"/>
<circle cx="443.5" cy="696.6" r="7.6" fill="#f70845" fill-opacity="0.63" stroke="#fff" stroke-opacity="0.8" stroke-width="0.9"/>
<circle cx="442.6" cy="702.8" r="7.6" fill="#f70845" fill-opacity="0.63" stroke="#fff" stroke-opacity="0.8" stroke-width="0.9"/>
<circle cx="454.9" cy="703.6" r="7.6" fill="#f70845" fill-opacity="0.63" stroke="#fff" stroke-opacity="0.8" stroke-width="0.9"/>
<circle cx="468" cy="707.2" r="7.6" fill="#f70845" fill-opacity="0.63" stroke="#fff" stroke-opacity="0.8" stroke-width="0.9"/>
<circle cx="485.5" cy="708" r="7.6" fill="#f70845" fill-opacity="0.63" stroke="#fff" stroke-opacity="0.8" stroke-width="0.9"/>
<circle cx="464.5" cy="715" r="7.6" fill="#f70845" fill-opacity="0.63" stroke="#fff" stroke-opacity="0.8" stroke-width="0.9"/>
<circle cx="481.2" cy="720.3" r="7.6" fill="#f70845" fill-opacity="0.63" stroke="#fff" stroke-opacity="0.8" stroke-width="0.9"/>
<circle cx="492.6" cy="711.5" r="7.6" fill="#f70845" fill-opacity="0.63" stroke="#fff" stroke-opacity="0.8" stroke-width="0.9"/>
<circle cx="477.7" cy="694.9" r="7.6" fill="#f70845" fill-opacity="0.63" stroke="#fff" stroke-opacity="0.8" stroke-width="0.9"/>
<circle cx="487.3" cy="693.1" r="7.6" fill="#f70845" fill-opacity="0.63" stroke="#fff" stroke-opacity="0.8" stroke-width="0.9"/>
<circle cx="478.5" cy="681.8" r="7.6" fill="#f70845" fill-opacity="0.63" stroke="#fff" stroke-opacity="0.8" stroke-width="0.9"/>
<circle cx="489" cy="727.3" r="7.6" fill="#f70845" fill-opacity="0.63" stroke="#fff" stroke-opacity="0.8" stroke-width="0.9"/>
<circle cx="458.4" cy="713.3" r="7.6" fill="#f70845" fill-opacity="0.63" stroke="#fff" stroke-opacity="0.8" stroke-width="0.9"/>
<circle cx="511.3" cy="717.9" r="7.6" fill="#f70845" fill-opacity="0.63" stroke="#fff" stroke-opacity="0.8" stroke-width="0.9"/>
<circle cx="466.3" cy="709.7" r="7.6" fill="#f70845" fill-opacity="0.63" stroke="#fff" stroke-opacity="0.8" stroke-width="0.9"/>
<circle cx="479.6" cy="717.4" r="7.6" fill="#f70845" fill-opacity="0.63" stroke="#fff" stroke-opacity="0.8" stroke-width="0.9"/>
<circle cx="454.1" cy="711.2" r="7.6" fill="#f70845" fill-opacity="0.63" stroke="#fff" stroke-opacity="0.8" stroke-width="0.9"/>
<circle cx="461.2" cy="717.4" r="7.6" fill="#f70845" fill-opacity="0.63" stroke="#fff" stroke-opacity="0.8" stroke-width="0.9"/>
<circle cx="492.9" cy="702" r="7.6" fill="#f70845" fill-opacity="0.63" stroke="#fff" stroke-opacity="0.8" stroke-width="0.9"/>
<circle cx="515.4" cy="702" r="7.6" fill="#f70845" fill-opacity="0.63" stroke="#fff" stroke-opacity="0.8" stroke-width="0.9"/>
<circle cx="438.1" cy="703.5" r="7.6" fill="#f70845" fill-opacity="0.63" stroke="#fff" stroke-opacity="0.8" stroke-width="0.9"/>
<circle cx="452.4" cy="705.5" r="7.6" fill="#f70845" fill-opacity="0.63" stroke="#fff" stroke-opacity="0.8" stroke-width="0.9"/>
<circle cx="422.8" cy="725" r="7.6" fill="#f70845" fill-opacity="0.63" stroke="#fff" stroke-opacity="0.8" stroke-width="0.9"/>
<circle cx="446.3" cy="713.7" r="7.6" fill="#f70845" fill-opacity="0.63" stroke="#fff" stroke-opacity="0.8" stroke-width="0.9"/>
<circle cx="442.2" cy="756.6" r="7.6" fill="#f70845" fill-opacity="0.63" stroke="#fff" stroke-opacity="0.8" stroke-width="0.9"/>
<circle cx="538.1" cy="705.9" r="7.6" fill="#f70845" fill-opacity="0.63" stroke="#fff" stroke-opacity="0.8" stroke-width="0.9"/>
<circle cx="535" cy="690.6" r="7.6" fill="#f70845" fill-opacity="0.63" stroke="#fff" stroke-opacity="0.8" stroke-width="0.9"/>
<circle cx="530.4" cy="695.2" r="7.6" fill="#f70845" fill-opacity="0.63" stroke="#fff" stroke-opacity="0.8" stroke-width="0.9"/>
<circle cx="486" cy="725.8" r="7.6" fill="#f70845" fill-opacity="0.63" stroke="#fff" stroke-opacity="0.8" stroke-width="0.9"/>
<circle cx="476.8" cy="715.1" r="7.6" fill="#f70845" fill-opacity="0.63" stroke="#fff" stroke-opacity="0.8" stroke-width="0.9"/>
<circle cx="495.2" cy="711.3" r="7.6" fill="#f70845" fill-opacity="0.63" stroke="#fff" stroke-opacity="0.8" stroke-width="0.9"/>
<circle cx="490.6" cy="698.2" r="7.6" fill="#f70845" fill-opacity="0.63" stroke="#fff" stroke-opacity="0.8" stroke-width="0.9"/>
<circle cx="528.9" cy="644.6" r="7.6" fill="#f70845" fill-opacity="0.63" stroke="#fff" stroke-opacity="0.8" stroke-width="0.9"/>
<circle cx="563.8" cy="687.6" r="7.6" fill="#f70845" fill-opacity="0.63" stroke="#fff" stroke-opacity="0.8" stroke-width="0.9"/>
<circle cx="563.8" cy="693.7" r="7.6" fill="#f70845" fill-opacity="0.63" stroke="#fff" stroke-opacity="0.8" stroke-width="0.9"/>
<circle cx="531.6" cy="666.1" r="7.6" fill="#f70845" fill-opacity="0.63" stroke="#fff" stroke-opacity="0.8" stroke-width="0.9"/>
<circle cx="530.5" cy="671.2" r="7.6" fill="#f70845" fill-opacity="0.63" stroke="#fff" stroke-opacity="0.8" stroke-width="0.9"/>
<circle cx="529.5" cy="677.4" r="7.6" fill="#f70845" fill-opacity="0.63" stroke="#fff" stroke-opacity="0.8" stroke-width="0.9"/>
<circle cx="510.1" cy="682.5" r="7.6" fill="#f70845" fill-opacity="0.63" stroke="#fff" stroke-opacity="0.8" stroke-width="0.9"/>
<circle cx="508.1" cy="664.1" r="7.6" fill="#f70845" fill-opacity="0.63" stroke="#fff" stroke-opacity="0.8" stroke-width="0.9"/>
<circle cx="513.2" cy="701.9" r="7.6" fill="#f70845" fill-opacity="0.63" stroke="#fff" stroke-opacity="0.8" stroke-width="0.9"/>
<circle cx="507" cy="713.1" r="7.6" fill="#f70845" fill-opacity="0.63" stroke="#fff" stroke-opacity="0.8" stroke-width="0.9"/>
<circle cx="514.2" cy="699.1" r="7.6" fill="#f70845" fill-opacity="0.63" stroke="#fff" stroke-opacity="0.8" stroke-width="0.9"/>
<circle cx="483.5" cy="719.2" r="7.6" fill="#f70845" fill-opacity="0.63" stroke="#fff" stroke-opacity="0.8" stroke-width="0.9"/>
<circle cx="472" cy="686.7" r="7.6" fill="#f70845" fill-opacity="0.63" stroke="#fff" stroke-opacity="0.8" stroke-width="0.9"/>
<circle cx="508.8" cy="668.3" r="7.6" fill="#f70845" fill-opacity="0.63" stroke="#fff" stroke-opacity="0.8" stroke-width="0.9"/>
<circle cx="450.2" cy="715.3" r="7.6" fill="#f70845" fill-opacity="0.63" stroke="#fff" stroke-opacity="0.8" stroke-width="0.9"/>
<circle cx="454.3" cy="738.8" r="7.6" fill="#f70845" fill-opacity="0.63" stroke="#fff" stroke-opacity="0.8" stroke-width="0.9"/>
<circle cx="416.2" cy="695.8" r="8.1" fill="#95a5a6" fill-opacity="0.5" stroke="#fff" stroke-opacity="0.8" stroke-width="0.9"/>
<circle cx="433.5" cy="685.6" r="8.1" fill="#95a5a6" fill-opacity="0.5" stroke="#fff" stroke-opacity="0.8" stroke-width="0.9"/>
<circle cx="434" cy="715.3" r="8.1" fill="#95a5a6" fill-opacity="0.5" stroke="#fff" stroke-opacity="0.8" stroke-width="0.9"/>
<circle cx="407" cy="731.1" r="8.1" fill="#95a5a6" fill-opacity="0.5" stroke="#fff" stroke-opacity="0.8" stroke-width="0.9"/>
<circle cx="416.2" cy="731.1" r="8.1" fill="#95a5a6" fill-opacity="0.5" stroke="#fff" stroke-opacity="0.8" stroke-width="0.9"/>
<circle cx="434" cy="728" r="8.1" fill="#95a5a6" fill-opacity="0.5" stroke="#fff" stroke-opacity="0.8" stroke-width="0.9"/>
<circle cx="448.4" cy="727" r="8.1" fill="#95a5a6" fill-opacity="0.5" stroke="#fff" stroke-opacity="0.8" stroke-width="0.9"/>
<circle cx="425.4" cy="729" r="8.1" fill="#95a5a6" fill-opacity="0.5" stroke="#fff" stroke-opacity="0.8" stroke-width="0.9"/>
<circle cx="402.4" cy="743.4" r="8.1" fill="#95a5a6" fill-opacity="0.5" stroke="#fff" stroke-opacity="0.8" stroke-width="0.9"/>
<circle cx="415.7" cy="741.3" r="8.1" fill="#95a5a6" fill-opacity="0.5" stroke="#fff" stroke-opacity="0.8" stroke-width="0.9"/>
<circle cx="425.9" cy="744.4" r="8.1" fill="#95a5a6" fill-opacity="0.5" stroke="#fff" stroke-opacity="0.8" stroke-width="0.9"/>
<circle cx="448.4" cy="742.3" r="8.1" fill="#95a5a6" fill-opacity="0.5" stroke="#fff" stroke-opacity="0.8" stroke-width="0.9"/>
<circle cx="440.2" cy="739.3" r="8.1" fill="#95a5a6" fill-opacity="0.5" stroke="#fff" stroke-opacity="0.8" stroke-width="0.9"/>
<circle cx="396.2" cy="746.4" r="8.1" fill="#95a5a6" fill-opacity="0.5" stroke="#fff" stroke-opacity="0.8" stroke-width="0.9"/>
<circle cx="404.4" cy="751.5" r="8.1" fill="#95a5a6" fill-opacity="0.5" stroke="#fff" stroke-opacity="0.8" stroke-width="0.9"/>
<circle cx="398.3" cy="758.6" r="8.1" fill="#95a5a6" fill-opacity="0.5" stroke="#fff" stroke-opacity="0.8" stroke-width="0.9"/>
<circle cx="407.5" cy="759.6" r="8.1" fill="#95a5a6" fill-opacity="0.5" stroke="#fff" stroke-opacity="0.8" stroke-width="0.9"/>
<circle cx="425.9" cy="750.4" r="8.1" fill="#95a5a6" fill-opacity="0.5" stroke="#fff" stroke-opacity="0.8" stroke-width="0.9"/>
<circle cx="423.8" cy="755.5" r="8.1" fill="#95a5a6" fill-opacity="0.5" stroke="#fff" stroke-opacity="0.8" stroke-width="0.9"/>
<circle cx="435.1" cy="766.8" r="8.1" fill="#95a5a6" fill-opacity="0.5" stroke="#fff" stroke-opacity="0.8" stroke-width="0.9"/>
<circle cx="439.7" cy="770.9" r="8.1" fill="#95a5a6" fill-opacity="0.5" stroke="#fff" stroke-opacity="0.8" stroke-width="0.9"/>
<circle cx="434" cy="733.1" r="8.1" fill="#95a5a6" fill-opacity="0.5" stroke="#fff" stroke-opacity="0.8" stroke-width="0.9"/>
<circle cx="470.4" cy="732.7" r="8.1" fill="#95a5a6" fill-opacity="0.5" stroke="#fff" stroke-opacity="0.8" stroke-width="0.9"/>
<circle cx="475.5" cy="724.5" r="8.1" fill="#95a5a6" fill-opacity="0.5" stroke="#fff" stroke-opacity="0.8" stroke-width="0.9"/>
<circle cx="469.9" cy="749" r="8.1" fill="#95a5a6" fill-opacity="0.5" stroke="#fff" stroke-opacity="0.8" stroke-width="0.9"/>
<circle cx="480.7" cy="740.9" r="8.1" fill="#95a5a6" fill-opacity="0.5" stroke="#fff" stroke-opacity="0.8" stroke-width="0.9"/>
<circle cx="496" cy="737.8" r="8.1" fill="#95a5a6" fill-opacity="0.5" stroke="#fff" stroke-opacity="0.8" stroke-width="0.9"/>
<circle cx="491.9" cy="748" r="8.1" fill="#95a5a6" fill-opacity="0.5" stroke="#fff" stroke-opacity="0.8" stroke-width="0.9"/>
<circle cx="453.1" cy="725.5" r="8.1" fill="#95a5a6" fill-opacity="0.5" stroke="#fff" stroke-opacity="0.8" stroke-width="0.9"/>
<circle cx="452" cy="742.9" r="8.1" fill="#95a5a6" fill-opacity="0.5" stroke="#fff" stroke-opacity="0.8" stroke-width="0.9"/>
<circle cx="475" cy="703.1" r="8.1" fill="#95a5a6" fill-opacity="0.5" stroke="#fff" stroke-opacity="0.8" stroke-width="0.9"/>
<circle cx="475.5" cy="698.4" r="8.1" fill="#95a5a6" fill-opacity="0.5" stroke="#fff" stroke-opacity="0.8" stroke-width="0.9"/>
<circle cx="519.3" cy="679.9" r="8.1" fill="#95a5a6" fill-opacity="0.5" stroke="#fff" stroke-opacity="0.8" stroke-width="0.9"/>
<circle cx="525.4" cy="693.7" r="8.1" fill="#95a5a6" fill-opacity="0.5" stroke="#fff" stroke-opacity="0.8" stroke-width="0.9"/>
<circle cx="508.1" cy="700.9" r="8.1" fill="#95a5a6" fill-opacity="0.5" stroke="#fff" stroke-opacity="0.8" stroke-width="0.9"/>
<circle cx="473.5" cy="731.7" r="8.1" fill="#95a5a6" fill-opacity="0.5" stroke="#fff" stroke-opacity="0.8" stroke-width="0.9"/>
<text x="502.6" y="65.8" font-size="11" fill="#000">Rowell et al. 1969</text>
<path d="M659.2,188 L659.27,188.75 L659.35,189.5 L659.45,190.25 L659.55,191 L659.67,191.75 L659.8,192.5 L659.94,193.25 L660.09,194 L660.24,194.75 L660.41,195.5 L660.58,196.25 L660.75,197 L660.93,197.75 L661.12,198.5 L661.31,199.25 L661.5,200 L661.7,200.75 L661.93,201.5 L662.17,202.25 L662.43,203 L662.7,203.75 L662.98,204.5 L663.28,205.25 L663.6,206 L663.92,206.75 L664.25,207.5 L664.59,208.25 L664.94,209 L665.36,209.75 L665.82,210.5 L666.31,211.25 L666.8,212 L667.29,212.75 L667.76,213.5 L668.19,214.25 L668.56,215 L668.85,215.75 L669.09,216.5 L669.3,217.25 L669.5,218 L669.68,218.75 L669.87,219.5 L670.07,220.25 L670.26,221 L670.44,221.75 L670.64,222.5 L670.87,223.25 L671.14,224 L671.5,224.75 L671.95,225.5 L672.46,226.25 L673.02,227 L673.6,227.75 L674.28,228.5 L675.04,229.25 L675.85,230 L676.66,230.75 L677.43,231.5 L678.13,232.25 L678.8,233 L679.46,233.75 L680.09,234.5 L680.69,235.25 L681.24,236 L681.73,236.75 L682.24,237.5 L682.73,238.25 L683.05,239 L683.08,239.75 L682.93,240.5 L682.66,241.25 L682.3,242 L681.9,242.75 L681.43,243.5 L680.73,244.25 L679.83,245 L678.82,245.75 L677.77,246.5 L676.76,247.25 L675.84,248 L674.94,248.75 L674.02,249.5 L673.1,250.25 L672.2,251 L671.33,251.75 L670.51,252.5 L669.75,253.25 L669.04,254 L668.37,254.75 L667.73,255.5 L667.11,256.25 L666.51,257 L665.92,257.75 L665.35,258.5 L664.78,259.25 L664.22,260 L663.67,260.75 L663.14,261.5 L662.64,262.25 L662.18,263 L661.75,263.75 L661.35,264.5 L660.98,265.25 L660.64,266 L660.33,266.75 L660.03,267.5 L659.76,268.25 L659.5,269 L659.27,269.75 L659.2,270 L659.2,270 L659.2,188Z" fill="#95a5a6" fill-opacity="0.4" stroke="#fff" stroke-width="0.7" stroke-linejoin="round"/>
<path d="M659.2,113.7 L659.23,114.45 L659.25,115.2 L659.28,115.95 L659.31,116.7 L659.34,117.45 L659.36,118.2 L659.39,118.95 L659.42,119.7 L659.45,120.45 L659.48,121.2 L659.52,121.95 L659.55,122.7 L659.58,123.45 L659.61,124.2 L659.64,124.95 L659.68,125.7 L659.71,126.45 L659.74,127.2 L659.78,127.95 L659.81,128.7 L659.85,129.45 L659.88,130.2 L659.91,130.95 L659.95,131.7 L659.98,132.45 L660.01,133.2 L660.04,133.95 L660.08,134.7 L660.11,135.45 L660.15,136.2 L660.18,136.95 L660.22,137.7 L660.26,138.45 L660.29,139.2 L660.33,139.95 L660.38,140.7 L660.42,141.45 L660.47,142.2 L660.52,142.95 L660.57,143.7 L660.62,144.45 L660.68,145.2 L660.74,145.95 L660.8,146.7 L660.87,147.45 L660.95,148.2 L661.05,148.95 L661.15,149.7 L661.26,150.45 L661.38,151.2 L661.51,151.95 L661.64,152.7 L661.78,153.45 L661.93,154.2 L662.08,154.95 L662.23,155.7 L662.38,156.45 L662.53,157.2 L662.69,157.95 L662.84,158.7 L662.99,159.45 L663.15,160.2 L663.32,160.95 L663.49,161.7 L663.67,162.45 L663.85,163.2 L664.03,163.95 L664.22,164.7 L664.42,165.45 L664.61,166.2 L664.8,166.95 L665,167.7 L665.2,168.45 L665.39,169.2 L665.58,169.95 L665.77,170.7 L665.96,171.45 L666.15,172.2 L666.35,172.95 L666.54,173.7 L666.74,174.45 L666.94,175.2 L667.14,175.95 L667.34,176.7 L667.53,177.45 L667.73,178.2 L667.92,178.95 L668.12,179.7 L668.3,180.45 L668.49,181.2 L668.67,181.95 L668.84,182.7 L669.01,183.45 L669.18,184.2 L669.35,184.95 L669.51,185.7 L669.68,186.45 L669.85,187.2 L670.01,187.95 L670.17,188.7 L670.33,189.45 L670.49,190.2 L670.63,190.95 L670.78,191.7 L670.91,192.45 L671.04,193.2 L671.16,193.95 L671.27,194.7 L671.37,195.45 L671.46,196.2 L671.56,196.95 L671.65,197.7 L671.74,198.45 L671.82,199.2 L671.87,199.95 L671.9,200.7 L671.89,201.45 L671.83,202.2 L671.73,202.95 L671.59,203.7 L671.42,204.45 L671.23,205.2 L671.02,205.95 L670.82,206.7 L670.61,207.45 L670.42,208.2 L670.25,208.95 L670.1,209.7 L669.97,210.45 L669.83,211.2 L669.71,211.95 L669.58,212.7 L669.46,213.45 L669.33,214.2 L669.2,214.95 L669.06,215.7 L668.91,216.45 L668.75,217.2 L668.58,217.95 L668.4,218.7 L668.17,219.45 L667.92,220.2 L667.65,220.95 L667.36,221.7 L667.05,222.45 L666.75,223.2 L666.44,223.95 L666.14,224.7 L665.86,225.45 L665.59,226.2 L665.35,226.95 L665.15,227.7 L664.96,228.45 L664.78,229.2 L664.6,229.95 L664.44,230.7 L664.28,231.45 L664.13,232.2 L663.98,232.95 L663.84,233.7 L663.7,234.45 L663.56,235.2 L663.43,235.95 L663.3,236.7 L663.17,237.45 L663.05,238.2 L662.93,238.95 L662.82,239.7 L662.71,240.45 L662.6,241.2 L662.49,241.95 L662.39,242.7 L662.28,243.45 L662.18,244.2 L662.08,244.95 L661.98,245.7 L661.88,246.45 L661.78,247.2 L661.68,247.95 L661.58,248.7 L661.48,249.45 L661.39,250.2 L661.29,250.95 L661.2,251.7 L661.1,252.45 L661.01,253.2 L660.92,253.95 L660.84,254.7 L660.75,255.45 L660.67,256.2 L660.59,256.95 L660.51,257.7 L660.43,258.45 L660.36,259.2 L660.28,259.95 L660.21,260.7 L660.13,261.45 L660.04,262.2 L659.96,262.95 L659.86,263.7 L659.77,264.45 L659.66,265.2 L659.54,265.95 L659.42,266.7 L659.29,267.45 L659.2,268 L659.2,268 L659.2,113.7Z" fill="#f70845" fill-opacity="0.46" stroke="#fff" stroke-width="0.7" stroke-linejoin="round"/>
<path d="M659.2,380.7 L659.42,381.45 L659.66,382.2 L659.92,382.95 L660.2,383.7 L660.5,384.45 L660.82,385.2 L661.16,385.95 L661.51,386.7 L661.87,387.45 L662.25,388.2 L662.64,388.95 L663.04,389.7 L663.46,390.45 L663.88,391.2 L664.31,391.95 L664.77,392.7 L665.26,393.45 L665.8,394.2 L666.37,394.95 L666.98,395.7 L667.6,396.45 L668.24,397.2 L668.89,397.95 L669.54,398.7 L670.19,399.45 L670.84,400.2 L671.47,400.95 L672.08,401.7 L672.66,402.45 L673.22,403.2 L673.75,403.95 L674.28,404.7 L674.8,405.45 L675.33,406.2 L675.88,406.95 L676.46,407.7 L677.09,408.45 L677.85,409.2 L678.67,409.95 L679.52,410.7 L680.35,411.45 L681.09,412.2 L681.7,412.95 L682.12,413.7 L682.38,414.45 L682.61,415.2 L682.81,415.95 L682.97,416.7 L683.07,417.45 L683.1,418.2 L682.94,418.95 L682.59,419.7 L682.09,420.45 L681.52,421.2 L680.93,421.95 L680.37,422.7 L679.92,423.45 L679.48,424.2 L679.02,424.95 L678.55,425.7 L678.09,426.45 L677.65,427.2 L677.24,427.95 L676.88,428.7 L676.59,429.45 L676.38,430.2 L676.25,430.95 L676.16,431.7 L676.08,432.45 L676.02,433.2 L675.97,433.95 L675.91,434.7 L675.84,435.45 L675.76,436.2 L675.67,436.95 L675.59,437.7 L675.51,438.45 L675.42,439.2 L675.32,439.95 L675.22,440.7 L675.1,441.45 L674.96,442.2 L674.81,442.95 L674.61,443.7 L674.34,444.45 L674.01,445.2 L673.63,445.95 L673.21,446.7 L672.78,447.45 L672.33,448.2 L671.9,448.95 L671.47,449.7 L671.01,450.45 L670.52,451.2 L670.02,451.95 L669.5,452.7 L668.98,453.45 L668.46,454.2 L667.96,454.95 L667.48,455.7 L667.03,456.45 L666.61,457.2 L666.21,457.95 L665.83,458.7 L665.46,459.45 L665.09,460.2 L664.72,460.95 L664.35,461.7 L663.97,462.45 L663.6,463.2 L663.22,463.95 L662.85,464.7 L662.47,465.45 L662.1,466.2 L661.72,466.95 L661.35,467.7 L660.98,468.45 L660.6,469.2 L660.23,469.95 L659.85,470.7 L659.48,471.45 L659.2,472 L659.2,472 L659.2,380.7Z" fill="#95a5a6" fill-opacity="0.4" stroke="#fff" stroke-width="0.7" stroke-linejoin="round"/>
<path d="M659.2,339.2 L659.26,339.95 L659.32,340.7 L659.39,341.45 L659.46,342.2 L659.53,342.95 L659.61,343.7 L659.69,344.45 L659.77,345.2 L659.86,345.95 L659.95,346.7 L660.04,347.45 L660.13,348.2 L660.23,348.95 L660.33,349.7 L660.43,350.45 L660.53,351.2 L660.64,351.95 L660.75,352.7 L660.87,353.45 L660.99,354.2 L661.11,354.95 L661.24,355.7 L661.38,356.45 L661.52,357.2 L661.66,357.95 L661.81,358.7 L661.96,359.45 L662.12,360.2 L662.29,360.95 L662.46,361.7 L662.64,362.45 L662.83,363.2 L663.03,363.95 L663.23,364.7 L663.45,365.45 L663.67,366.2 L663.9,366.95 L664.14,367.7 L664.39,368.45 L664.64,369.2 L664.91,369.95 L665.18,370.7 L665.46,371.45 L665.76,372.2 L666.08,372.95 L666.42,373.7 L666.78,374.45 L667.16,375.2 L667.55,375.95 L667.94,376.7 L668.35,377.45 L668.75,378.2 L669.16,378.95 L669.56,379.7 L669.96,380.45 L670.35,381.2 L670.73,381.95 L671.11,382.7 L671.51,383.45 L671.91,384.2 L672.32,384.95 L672.73,385.7 L673.14,386.45 L673.54,387.2 L673.94,387.95 L674.32,388.7 L674.68,389.45 L675.03,390.2 L675.35,390.95 L675.65,391.7 L675.93,392.45 L676.21,393.2 L676.51,393.95 L676.8,394.7 L677.07,395.45 L677.33,396.2 L677.55,396.95 L677.72,397.7 L677.84,398.45 L677.9,399.2 L677.89,399.95 L677.84,400.7 L677.75,401.45 L677.64,402.2 L677.5,402.95 L677.34,403.7 L677.17,404.45 L677,405.2 L676.81,405.95 L676.54,406.7 L676.21,407.45 L675.82,408.2 L675.39,408.95 L674.95,409.7 L674.5,410.45 L674.06,411.2 L673.65,411.95 L673.29,412.7 L672.97,413.45 L672.65,414.2 L672.34,414.95 L672.03,415.7 L671.74,416.45 L671.46,417.2 L671.2,417.95 L670.96,418.7 L670.74,419.45 L670.55,420.2 L670.39,420.95 L670.24,421.7 L670.1,422.45 L669.98,423.2 L669.85,423.95 L669.72,424.7 L669.59,425.45 L669.45,426.2 L669.31,426.95 L669.16,427.7 L669.01,428.45 L668.87,429.2 L668.72,429.95 L668.58,430.7 L668.43,431.45 L668.29,432.2 L668.16,432.95 L668.03,433.7 L667.9,434.45 L667.79,435.2 L667.68,435.95 L667.58,436.7 L667.48,437.45 L667.39,438.2 L667.31,438.95 L667.23,439.7 L667.15,440.45 L667.07,441.2 L666.99,441.95 L666.91,442.7 L666.83,443.45 L666.74,444.2 L666.66,444.95 L666.56,445.7 L666.47,446.45 L666.36,447.2 L666.25,447.95 L666.14,448.7 L666.03,449.45 L665.91,450.2 L665.79,450.95 L665.67,451.7 L665.54,452.45 L665.42,453.2 L665.3,453.95 L665.18,454.7 L665.06,455.45 L664.95,456.2 L664.83,456.95 L664.72,457.7 L664.61,458.45 L664.51,459.2 L664.4,459.95 L664.29,460.7 L664.18,461.45 L664.08,462.2 L663.97,462.95 L663.87,463.7 L663.76,464.45 L663.65,465.2 L663.54,465.95 L663.43,466.7 L663.32,467.45 L663.2,468.2 L663.09,468.95 L662.98,469.7 L662.86,470.45 L662.75,471.2 L662.63,471.95 L662.51,472.7 L662.4,473.45 L662.28,474.2 L662.16,474.95 L662.05,475.7 L661.93,476.45 L661.82,477.2 L661.7,477.95 L661.58,478.7 L661.46,479.45 L661.34,480.2 L661.22,480.95 L661.1,481.7 L660.98,482.45 L660.86,483.2 L660.75,483.95 L660.63,484.7 L660.52,485.45 L660.41,486.2 L660.3,486.95 L660.2,487.7 L660.1,488.45 L660,489.2 L659.91,489.95 L659.81,490.7 L659.72,491.45 L659.63,492.2 L659.54,492.95 L659.45,493.7 L659.37,494.45 L659.29,495.2 L659.21,495.95 L659.2,496 L659.2,496 L659.2,339.2Z" fill="#f70845" fill-opacity="0.46" stroke="#fff" stroke-width="0.7" stroke-linejoin="round"/>
<path d="M659.2,685 L659.22,685.75 L659.25,686.5 L659.29,687.25 L659.34,688 L659.39,688.75 L659.45,689.5 L659.52,690.25 L659.59,691 L659.67,691.75 L659.75,692.5 L659.84,693.25 L659.94,694 L660.04,694.75 L660.14,695.5 L660.24,696.25 L660.35,697 L660.46,697.75 L660.57,698.5 L660.69,699.25 L660.8,700 L660.92,700.75 L661.06,701.5 L661.21,702.25 L661.38,703 L661.55,703.75 L661.74,704.5 L661.94,705.25 L662.14,706 L662.35,706.75 L662.56,707.5 L662.77,708.25 L662.99,709 L663.21,709.75 L663.43,710.5 L663.65,711.25 L663.87,712 L664.1,712.75 L664.33,713.5 L664.56,714.25 L664.81,715 L665.06,715.75 L665.32,716.5 L665.58,717.25 L665.86,718 L666.15,718.75 L666.45,719.5 L666.76,720.25 L667.09,721 L667.42,721.75 L667.78,722.5 L668.15,723.25 L668.55,724 L668.99,724.75 L669.48,725.5 L670.01,726.25 L670.64,727 L671.46,727.75 L672.41,728.5 L673.42,729.25 L674.42,730 L675.33,730.75 L676.09,731.5 L676.8,732.25 L677.48,733 L678.13,733.75 L678.73,734.5 L679.29,735.25 L679.81,736 L680.28,736.75 L680.74,737.5 L681.19,738.25 L681.61,739 L681.98,739.75 L682.3,740.5 L682.54,741.25 L682.71,742 L682.88,742.75 L683.01,743.5 L683.09,744.25 L683.07,745 L682.79,745.75 L682.27,746.5 L681.58,747.25 L680.82,748 L680.05,748.75 L679.18,749.5 L678.12,750.25 L677,751 L675.98,751.75 L675.12,752.5 L674.3,753.25 L673.52,754 L672.77,754.75 L672.05,755.5 L671.36,756.25 L670.69,757 L670.04,757.75 L669.42,758.5 L668.81,759.25 L668.23,760 L667.66,760.75 L667.1,761.5 L666.54,762.25 L665.97,763 L665.38,763.75 L664.79,764.5 L664.23,765.25 L663.69,766 L663.21,766.75 L662.8,767.5 L662.46,768.25 L662.18,769 L661.92,769.75 L661.68,770.5 L661.42,771.25 L661.13,772 L660.77,772.75 L660.32,773.5 L659.78,774.25 L659.2,775 L659.2,775 L659.2,685Z" fill="#95a5a6" fill-opacity="0.4" stroke="#fff" stroke-width="0.7" stroke-linejoin="round"/>
<path d="M659.2,634.2 L659.27,634.95 L659.34,635.7 L659.42,636.45 L659.5,637.2 L659.6,637.95 L659.69,638.7 L659.8,639.45 L659.9,640.2 L660.02,640.95 L660.13,641.7 L660.26,642.45 L660.38,643.2 L660.51,643.95 L660.64,644.7 L660.77,645.45 L660.91,646.2 L661.07,646.95 L661.24,647.7 L661.43,648.45 L661.62,649.2 L661.82,649.95 L662.02,650.7 L662.23,651.45 L662.44,652.2 L662.64,652.95 L662.84,653.7 L663.03,654.45 L663.22,655.2 L663.39,655.95 L663.56,656.7 L663.73,657.45 L663.9,658.2 L664.08,658.95 L664.25,659.7 L664.42,660.45 L664.59,661.2 L664.74,661.95 L664.89,662.7 L665.03,663.45 L665.15,664.2 L665.25,664.95 L665.34,665.7 L665.41,666.45 L665.47,667.2 L665.52,667.95 L665.56,668.7 L665.6,669.45 L665.64,670.2 L665.67,670.95 L665.7,671.7 L665.73,672.45 L665.76,673.2 L665.8,673.95 L665.83,674.7 L665.87,675.45 L665.92,676.2 L665.97,676.95 L666.02,677.7 L666.08,678.45 L666.13,679.2 L666.19,679.95 L666.26,680.7 L666.33,681.45 L666.4,682.2 L666.47,682.95 L666.56,683.7 L666.64,684.45 L666.74,685.2 L666.83,685.95 L666.94,686.7 L667.06,687.45 L667.2,688.2 L667.37,688.95 L667.57,689.7 L667.79,690.45 L668.02,691.2 L668.27,691.95 L668.52,692.7 L668.78,693.45 L669.04,694.2 L669.3,694.95 L669.55,695.7 L669.79,696.45 L670.02,697.2 L670.22,697.95 L670.43,698.7 L670.63,699.45 L670.84,700.2 L671.03,700.95 L671.23,701.7 L671.42,702.45 L671.61,703.2 L671.79,703.95 L671.98,704.7 L672.19,705.45 L672.41,706.2 L672.62,706.95 L672.82,707.7 L672.99,708.45 L673.11,709.2 L673.19,709.95 L673.2,710.7 L673.18,711.45 L673.14,712.2 L673.08,712.95 L673,713.7 L672.91,714.45 L672.81,715.2 L672.69,715.95 L672.57,716.7 L672.43,717.45 L672.3,718.2 L672.15,718.95 L671.94,719.7 L671.68,720.45 L671.37,721.2 L671.03,721.95 L670.67,722.7 L670.3,723.45 L669.93,724.2 L669.58,724.95 L669.22,725.7 L668.85,726.45 L668.47,727.2 L668.08,727.95 L667.69,728.7 L667.31,729.45 L666.95,730.2 L666.61,730.95 L666.29,731.7 L665.98,732.45 L665.68,733.2 L665.39,733.95 L665.1,734.7 L664.82,735.45 L664.54,736.2 L664.27,736.95 L664.01,737.7 L663.76,738.45 L663.51,739.2 L663.27,739.95 L663.04,740.7 L662.81,741.45 L662.6,742.2 L662.38,742.95 L662.18,743.7 L661.97,744.45 L661.78,745.2 L661.58,745.95 L661.4,746.7 L661.21,747.45 L661.03,748.2 L660.86,748.95 L660.68,749.7 L660.52,750.45 L660.35,751.2 L660.19,751.95 L660.03,752.7 L659.88,753.45 L659.73,754.2 L659.59,754.95 L659.45,755.7 L659.31,756.45 L659.2,757.1 L659.2,757.1 L659.2,634.2Z" fill="#f70845" fill-opacity="0.46" stroke="#fff" stroke-width="0.7" stroke-linejoin="round"/>
</svg>
</body></html>
